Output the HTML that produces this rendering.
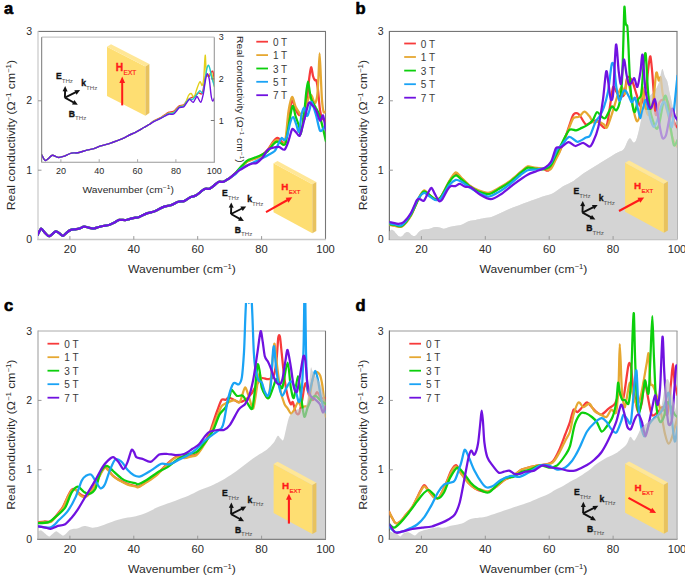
<!DOCTYPE html>
<html><head><meta charset="utf-8"><style>
html,body{margin:0;padding:0;background:#fff;width:685px;height:576px;overflow:hidden}
svg{display:block}
</style></head><body>
<svg width="685" height="576" viewBox="0 0 685 576" font-family='"Liberation Sans", sans-serif'>
<rect width="685" height="576" fill="#fff"/>
<defs>
<clipPath id="clipa"><rect x="38.0" y="3.4" width="287.6" height="236.2"/></clipPath>
<clipPath id="clipga"><rect x="38.0" y="31.4" width="287.6" height="208.2"/></clipPath>
<clipPath id="clipb"><rect x="389.4" y="3.4" width="287.6" height="236.2"/></clipPath>
<clipPath id="clipgb"><rect x="389.4" y="31.4" width="287.6" height="208.2"/></clipPath>
<clipPath id="clipc"><rect x="38.0" y="303.0" width="287.6" height="236.2"/></clipPath>
<clipPath id="clipgc"><rect x="38.0" y="331.0" width="287.6" height="208.2"/></clipPath>
<clipPath id="clipd"><rect x="389.4" y="303.0" width="287.6" height="236.2"/></clipPath>
<clipPath id="clipgd"><rect x="389.4" y="331.0" width="287.6" height="208.2"/></clipPath>
</defs>
<line x1="38.0" y1="31.4" x2="326.0" y2="31.4" stroke="#666" stroke-width="1"/>
<line x1="325.5" y1="31.4" x2="325.5" y2="239.6" stroke="#777" stroke-width="1.1"/>
<line x1="37.2" y1="239.6" x2="326.0" y2="239.6" stroke="#c8c8c8" stroke-width="1.5"/>
<line x1="38.0" y1="30.9" x2="38.0" y2="239.6" stroke="#c8c8c8" stroke-width="1.2"/>
<g clip-path="url(#clipa)">
<path d="M37.5,235.2 C38.0,234.3 40.1,229.0 41.1,228.6 C42.1,228.2 43.6,231.5 44.8,232.6 C46.0,233.7 47.9,236.4 49.4,236.2 C50.9,236.0 54.3,231.8 55.7,231.4 C57.1,231.0 58.4,232.7 59.4,233.3 C60.4,233.9 62.0,235.9 63.0,235.8 C64.0,235.7 65.7,233.4 66.7,232.6 C67.7,231.8 69.1,230.6 70.3,230.1 C71.5,229.6 74.2,229.5 75.4,229.3 C76.6,229.1 77.9,229.0 79.1,228.6 C80.3,228.2 82.9,226.8 84.2,226.7 C85.5,226.6 87.3,227.3 88.6,227.6 C89.9,227.9 92.3,228.6 93.7,228.5 C95.1,228.4 97.5,227.3 98.8,227.0 C100.1,226.7 101.8,226.3 103.2,226.0 C104.6,225.7 107.6,225.4 109.0,225.0 C110.4,224.6 112.0,223.8 113.4,223.1 C114.8,222.4 117.6,220.3 119.2,219.9 C120.8,219.5 123.7,220.2 125.1,220.1 C126.5,220.0 128.0,219.4 129.4,219.1 C130.8,218.8 134.0,218.0 135.3,217.7 C136.6,217.4 137.1,217.8 138.8,217.2 C140.5,216.6 145.3,213.9 147.5,213.1 C149.7,212.3 152.5,212.2 154.8,211.3 C157.1,210.4 161.3,207.8 163.6,206.9 C165.9,206.0 168.9,205.9 170.9,205.2 C172.9,204.5 176.4,202.4 178.2,201.8 C180.0,201.2 182.4,201.7 184.0,201.1 C185.6,200.5 188.3,198.2 189.9,197.4 C191.5,196.6 193.7,196.7 195.7,195.5 C197.7,194.3 202.6,190.1 204.5,189.1 C206.4,188.1 208.2,189.3 209.6,188.7 C211.0,188.1 213.4,186.0 214.7,185.0 C216.0,184.0 217.8,182.2 219.0,181.8 C220.2,181.4 222.2,182.2 223.4,181.8 C224.6,181.4 226.9,179.8 227.8,179.2 C228.7,178.6 229.0,178.5 230.0,177.8 C231.0,177.1 233.6,175.3 235.0,174.0 C236.4,172.7 238.3,170.2 240.0,168.5 C241.7,166.8 245.0,162.9 246.9,161.5 C248.8,160.1 252.0,159.6 253.9,158.8 C255.8,158.0 258.9,157.1 260.8,155.8 C262.7,154.5 266.1,151.7 267.8,149.7 C269.6,147.7 271.9,143.1 273.3,141.4 C274.7,139.7 276.4,138.0 277.5,137.9 C278.6,137.8 280.1,139.9 281.0,140.7 C281.9,141.5 283.0,144.2 283.8,143.5 C284.6,142.8 285.8,139.4 286.5,135.8 C287.2,132.2 287.8,122.8 288.6,117.8 C289.4,112.8 291.1,101.6 292.1,100.4 C293.1,99.2 294.6,107.4 295.6,109.4 C296.6,111.4 298.3,114.3 299.0,115.0 C299.7,115.7 299.7,113.9 300.5,114.5 C301.3,115.1 303.5,121.2 304.4,119.2 C305.3,117.2 306.4,105.5 307.0,100.0 C307.6,94.5 308.4,84.6 309.0,80.0 C309.6,75.4 310.5,67.9 311.1,67.3 C311.7,66.7 312.5,74.2 313.0,76.0 C313.5,77.8 314.3,79.5 314.8,80.1 C315.3,80.7 316.0,79.2 316.4,80.6 C316.8,82.0 317.5,85.9 318.0,90.0 C318.5,94.1 319.4,106.1 320.0,110.0 C320.6,113.9 321.2,116.4 322.0,118.0 C322.8,119.6 325.3,120.8 325.8,121.3" fill="none" stroke="#f73b3b" stroke-width="2.25" stroke-linejoin="round" stroke-linecap="round" />
<path d="M37.5,235.2 C38.0,234.3 40.1,229.0 41.1,228.6 C42.1,228.2 43.6,231.5 44.8,232.6 C46.0,233.7 47.9,236.4 49.4,236.2 C50.9,236.0 54.3,231.8 55.7,231.4 C57.1,231.0 58.4,232.7 59.4,233.3 C60.4,233.9 62.0,235.9 63.0,235.8 C64.0,235.7 65.7,233.4 66.7,232.6 C67.7,231.8 69.1,230.6 70.3,230.1 C71.5,229.6 74.2,229.5 75.4,229.3 C76.6,229.1 77.9,229.0 79.1,228.6 C80.3,228.2 82.9,226.8 84.2,226.7 C85.5,226.6 87.3,227.3 88.6,227.6 C89.9,227.9 92.3,228.6 93.7,228.5 C95.1,228.4 97.5,227.3 98.8,227.0 C100.1,226.7 101.8,226.3 103.2,226.0 C104.6,225.7 107.6,225.4 109.0,225.0 C110.4,224.6 112.0,223.8 113.4,223.1 C114.8,222.4 117.6,220.3 119.2,219.9 C120.8,219.5 123.7,220.2 125.1,220.1 C126.5,220.0 128.0,219.4 129.4,219.1 C130.8,218.8 134.0,218.0 135.3,217.7 C136.6,217.4 137.1,217.8 138.8,217.2 C140.5,216.6 145.3,213.9 147.5,213.1 C149.7,212.3 152.5,212.2 154.8,211.3 C157.1,210.4 161.3,207.8 163.6,206.9 C165.9,206.0 168.9,205.9 170.9,205.2 C172.9,204.5 176.4,202.4 178.2,201.8 C180.0,201.2 182.4,201.7 184.0,201.1 C185.6,200.5 188.3,198.2 189.9,197.4 C191.5,196.6 193.7,196.7 195.7,195.5 C197.7,194.3 202.6,190.1 204.5,189.1 C206.4,188.1 208.2,189.3 209.6,188.7 C211.0,188.1 213.4,186.0 214.7,185.0 C216.0,184.0 217.8,182.2 219.0,181.8 C220.2,181.4 222.2,182.2 223.4,181.8 C224.6,181.4 226.9,179.8 227.8,179.2 C228.7,178.6 229.0,178.5 230.0,177.8 C231.0,177.1 233.6,175.3 235.0,174.0 C236.4,172.7 238.3,170.2 240.0,168.5 C241.7,166.8 245.0,163.1 246.9,161.8 C248.8,160.5 252.0,160.0 253.9,159.2 C255.8,158.4 258.9,157.5 260.8,156.3 C262.7,155.1 266.1,152.4 267.8,150.5 C269.6,148.6 271.9,144.0 273.3,142.5 C274.7,141.0 276.3,139.9 277.5,140.0 C278.7,140.1 280.8,142.9 281.7,143.5 C282.6,144.1 283.2,144.9 283.8,144.0 C284.4,143.1 285.1,141.8 285.8,137.2 C286.5,132.6 287.7,116.4 288.6,110.8 C289.5,105.2 291.1,97.6 292.1,97.0 C293.1,96.4 294.6,104.6 295.6,106.7 C296.6,108.8 298.1,110.8 299.0,112.2 C299.9,113.6 301.2,116.9 302.0,117.0 C302.8,117.1 304.2,115.4 305.0,113.0 C305.8,110.6 307.2,102.5 308.0,100.0 C308.8,97.5 309.9,95.4 310.5,95.0 C311.1,94.6 311.6,95.6 312.2,96.8 C312.8,98.0 314.1,103.6 314.8,103.5 C315.5,103.4 316.7,99.8 317.2,96.0 C317.7,92.2 318.2,82.0 318.5,76.0 C318.8,70.0 319.3,53.3 319.6,53.3 C319.9,53.3 320.5,69.5 320.8,76.0 C321.1,82.5 321.6,95.0 322.0,100.0 C322.4,105.0 323.1,110.3 323.6,111.9 C324.1,113.5 325.5,111.5 325.8,111.4" fill="none" stroke="#e6a832" stroke-width="2.25" stroke-linejoin="round" stroke-linecap="round" />
<path d="M37.5,235.2 C38.0,234.3 40.1,229.0 41.1,228.6 C42.1,228.2 43.6,231.5 44.8,232.6 C46.0,233.7 47.9,236.4 49.4,236.2 C50.9,236.0 54.3,231.8 55.7,231.4 C57.1,231.0 58.4,232.7 59.4,233.3 C60.4,233.9 62.0,235.9 63.0,235.8 C64.0,235.7 65.7,233.4 66.7,232.6 C67.7,231.8 69.1,230.6 70.3,230.1 C71.5,229.6 74.2,229.5 75.4,229.3 C76.6,229.1 77.9,229.0 79.1,228.6 C80.3,228.2 82.9,226.8 84.2,226.7 C85.5,226.6 87.3,227.3 88.6,227.6 C89.9,227.9 92.3,228.6 93.7,228.5 C95.1,228.4 97.5,227.3 98.8,227.0 C100.1,226.7 101.8,226.3 103.2,226.0 C104.6,225.7 107.6,225.4 109.0,225.0 C110.4,224.6 112.0,223.8 113.4,223.1 C114.8,222.4 117.6,220.3 119.2,219.9 C120.8,219.5 123.7,220.2 125.1,220.1 C126.5,220.0 128.0,219.4 129.4,219.1 C130.8,218.8 134.0,218.0 135.3,217.7 C136.6,217.4 137.1,217.8 138.8,217.2 C140.5,216.6 145.3,213.9 147.5,213.1 C149.7,212.3 152.5,212.2 154.8,211.3 C157.1,210.4 161.3,207.8 163.6,206.9 C165.9,206.0 168.9,205.9 170.9,205.2 C172.9,204.5 176.4,202.4 178.2,201.8 C180.0,201.2 182.4,201.7 184.0,201.1 C185.6,200.5 188.3,198.2 189.9,197.4 C191.5,196.6 193.7,196.7 195.7,195.5 C197.7,194.3 202.6,190.1 204.5,189.1 C206.4,188.1 208.2,189.3 209.6,188.7 C211.0,188.1 213.4,186.0 214.7,185.0 C216.0,184.0 217.8,182.2 219.0,181.8 C220.2,181.4 222.2,182.2 223.4,181.8 C224.6,181.4 226.9,179.8 227.8,179.2 C228.7,178.6 229.0,178.6 230.0,177.8 C231.0,177.0 233.6,174.9 235.0,173.5 C236.4,172.1 238.3,169.6 240.0,167.8 C241.7,166.0 245.0,162.2 246.9,160.8 C248.8,159.4 252.0,158.8 253.9,158.0 C255.8,157.2 258.9,156.3 260.8,155.3 C262.7,154.3 266.1,152.7 267.8,151.1 C269.6,149.5 272.0,145.5 273.3,144.2 C274.6,142.9 275.8,141.9 276.8,141.7 C277.8,141.5 279.3,142.4 280.3,142.8 C281.3,143.2 283.0,144.9 283.8,144.9 C284.6,144.9 285.1,145.4 285.8,142.8 C286.5,140.2 287.7,131.3 288.6,126.1 C289.5,120.9 291.5,107.4 292.5,106.0 C293.5,104.6 294.7,113.6 295.6,116.4 C296.5,119.2 298.3,123.7 299.0,126.1 C299.7,128.5 300.0,135.4 300.7,133.8 C301.4,132.2 303.2,120.9 304.0,115.0 C304.8,109.1 305.7,96.7 306.3,92.0 C306.9,87.3 307.5,81.5 308.0,81.5 C308.5,81.5 309.3,89.4 309.8,92.0 C310.3,94.6 310.7,97.8 311.5,100.0 C312.3,102.2 314.8,105.7 315.8,107.7 C316.9,109.7 318.1,111.7 319.0,114.0 C319.9,116.3 321.0,120.6 322.0,124.4 C323.0,128.2 325.3,138.7 325.8,141.0" fill="none" stroke="#0ccf0c" stroke-width="2.25" stroke-linejoin="round" stroke-linecap="round" />
<path d="M37.5,235.2 C38.0,234.3 40.1,229.0 41.1,228.6 C42.1,228.2 43.6,231.5 44.8,232.6 C46.0,233.7 47.9,236.4 49.4,236.2 C50.9,236.0 54.3,231.8 55.7,231.4 C57.1,231.0 58.4,232.7 59.4,233.3 C60.4,233.9 62.0,235.9 63.0,235.8 C64.0,235.7 65.7,233.4 66.7,232.6 C67.7,231.8 69.1,230.6 70.3,230.1 C71.5,229.6 74.2,229.5 75.4,229.3 C76.6,229.1 77.9,229.0 79.1,228.6 C80.3,228.2 82.9,226.8 84.2,226.7 C85.5,226.6 87.3,227.3 88.6,227.6 C89.9,227.9 92.3,228.6 93.7,228.5 C95.1,228.4 97.5,227.3 98.8,227.0 C100.1,226.7 101.8,226.3 103.2,226.0 C104.6,225.7 107.6,225.4 109.0,225.0 C110.4,224.6 112.0,223.8 113.4,223.1 C114.8,222.4 117.6,220.3 119.2,219.9 C120.8,219.5 123.7,220.2 125.1,220.1 C126.5,220.0 128.0,219.4 129.4,219.1 C130.8,218.8 134.0,218.0 135.3,217.7 C136.6,217.4 137.1,217.8 138.8,217.2 C140.5,216.6 145.3,213.9 147.5,213.1 C149.7,212.3 152.5,212.2 154.8,211.3 C157.1,210.4 161.3,207.8 163.6,206.9 C165.9,206.0 168.9,205.9 170.9,205.2 C172.9,204.5 176.4,202.4 178.2,201.8 C180.0,201.2 182.4,201.7 184.0,201.1 C185.6,200.5 188.3,198.2 189.9,197.4 C191.5,196.6 193.7,196.7 195.7,195.5 C197.7,194.3 202.6,190.1 204.5,189.1 C206.4,188.1 208.2,189.3 209.6,188.7 C211.0,188.1 213.4,186.0 214.7,185.0 C216.0,184.0 217.8,182.2 219.0,181.8 C220.2,181.4 222.2,182.2 223.4,181.8 C224.6,181.4 226.9,179.8 227.8,179.2 C228.7,178.6 229.0,178.5 230.0,177.8 C231.0,177.1 233.6,175.7 235.0,174.5 C236.4,173.3 238.3,170.5 240.0,169.2 C241.7,167.9 245.0,166.5 246.9,165.5 C248.8,164.5 252.0,163.1 253.9,162.2 C255.8,161.3 258.9,159.8 260.8,158.8 C262.7,157.8 265.9,156.4 267.8,155.3 C269.7,154.2 273.1,152.8 274.7,151.1 C276.3,149.3 277.9,144.6 278.9,142.8 C279.9,141.0 280.9,138.3 281.7,137.9 C282.5,137.5 283.6,140.3 284.4,140.0 C285.2,139.7 286.4,138.1 287.2,135.8 C288.0,133.5 289.2,125.9 290.0,123.3 C290.8,120.7 292.3,116.9 293.2,117.1 C294.1,117.3 295.5,122.7 296.3,124.7 C297.1,126.7 298.3,133.1 299.0,131.7 C299.7,130.3 300.8,118.4 301.5,115.0 C302.2,111.6 303.4,107.6 304.2,107.7 C305.0,107.8 306.3,115.7 307.0,116.0 C307.7,116.3 308.8,112.0 309.5,110.0 C310.2,108.0 310.8,101.3 311.7,102.0 C312.6,102.7 314.8,111.0 316.0,115.0 C317.2,119.0 318.9,128.8 320.0,130.6 C321.1,132.3 323.4,128.1 324.2,127.5 C325.0,126.9 325.6,126.2 325.8,126.0" fill="none" stroke="#1aa3f5" stroke-width="2.25" stroke-linejoin="round" stroke-linecap="round" />
<path d="M37.5,235.2 C38.0,234.3 40.1,229.0 41.1,228.6 C42.1,228.2 43.6,231.5 44.8,232.6 C46.0,233.7 47.9,236.4 49.4,236.2 C50.9,236.0 54.3,231.8 55.7,231.4 C57.1,231.0 58.4,232.7 59.4,233.3 C60.4,233.9 62.0,235.9 63.0,235.8 C64.0,235.7 65.7,233.4 66.7,232.6 C67.7,231.8 69.1,230.6 70.3,230.1 C71.5,229.6 74.2,229.5 75.4,229.3 C76.6,229.1 77.9,229.0 79.1,228.6 C80.3,228.2 82.9,226.8 84.2,226.7 C85.5,226.6 87.3,227.3 88.6,227.6 C89.9,227.9 92.3,228.6 93.7,228.5 C95.1,228.4 97.5,227.3 98.8,227.0 C100.1,226.7 101.8,226.3 103.2,226.0 C104.6,225.7 107.6,225.4 109.0,225.0 C110.4,224.6 112.0,223.8 113.4,223.1 C114.8,222.4 117.6,220.3 119.2,219.9 C120.8,219.5 123.7,220.2 125.1,220.1 C126.5,220.0 128.0,219.4 129.4,219.1 C130.8,218.8 134.0,218.0 135.3,217.7 C136.6,217.4 137.1,217.8 138.8,217.2 C140.5,216.6 145.3,213.9 147.5,213.1 C149.7,212.3 152.5,212.2 154.8,211.3 C157.1,210.4 161.3,207.8 163.6,206.9 C165.9,206.0 168.9,205.9 170.9,205.2 C172.9,204.5 176.4,202.4 178.2,201.8 C180.0,201.2 182.4,201.7 184.0,201.1 C185.6,200.5 188.3,198.2 189.9,197.4 C191.5,196.6 193.7,196.7 195.7,195.5 C197.7,194.3 202.6,190.1 204.5,189.1 C206.4,188.1 208.2,189.3 209.6,188.7 C211.0,188.1 213.4,186.0 214.7,185.0 C216.0,184.0 217.8,182.2 219.0,181.8 C220.2,181.4 222.2,182.2 223.4,181.8 C224.6,181.4 226.9,179.8 227.8,179.2 C228.7,178.6 229.0,178.6 230.0,177.8 C231.0,177.0 233.8,174.5 235.2,173.4 C236.6,172.3 238.8,170.7 240.0,169.9 C241.2,169.1 242.8,168.2 244.0,167.5 C245.2,166.8 247.1,165.6 248.3,165.0 C249.5,164.4 251.3,163.8 252.5,163.5 C253.7,163.2 255.3,163.7 256.7,162.9 C258.1,162.1 260.6,159.8 262.2,158.0 C263.8,156.2 266.2,151.2 267.8,149.7 C269.4,148.2 271.7,148.0 273.3,147.6 C274.9,147.2 277.3,146.6 278.9,146.9 C280.5,147.2 283.1,150.3 284.4,149.7 C285.7,149.1 287.0,145.0 287.9,142.8 C288.8,140.6 289.9,135.9 290.5,134.0 C291.1,132.1 291.8,129.2 292.5,128.9 C293.2,128.6 294.6,130.7 295.6,131.7 C296.6,132.7 298.7,136.7 299.7,135.8 C300.7,134.9 301.8,129.5 303.0,125.0 C304.2,120.5 307.3,106.4 308.5,103.5 C309.7,100.6 310.6,103.7 311.7,104.6 C312.8,105.5 314.8,107.7 316.0,110.0 C317.2,112.3 319.0,119.9 320.0,120.7 C321.0,121.5 322.3,114.2 323.1,115.5 C323.9,116.8 325.4,128.1 325.8,130.1" fill="none" stroke="#7012e0" stroke-width="2.25" stroke-linejoin="round" stroke-linecap="round" />
</g>
<line x1="69.9" y1="239.6" x2="69.9" y2="236.1" stroke="#999" stroke-width="1"/>
<line x1="133.8" y1="239.6" x2="133.8" y2="236.1" stroke="#999" stroke-width="1"/>
<line x1="197.7" y1="239.6" x2="197.7" y2="236.1" stroke="#999" stroke-width="1"/>
<line x1="261.6" y1="239.6" x2="261.6" y2="236.1" stroke="#999" stroke-width="1"/>
<line x1="38.0" y1="170.2" x2="41.5" y2="170.2" stroke="#999" stroke-width="1"/>
<line x1="38.0" y1="100.8" x2="41.5" y2="100.8" stroke="#999" stroke-width="1"/>
<text transform="translate(69.9,253.2) scale(1.12,1)" font-size="10" text-anchor="middle" fill="#2a2a2a">20</text>
<text transform="translate(133.8,253.2) scale(1.12,1)" font-size="10" text-anchor="middle" fill="#2a2a2a">40</text>
<text transform="translate(197.7,253.2) scale(1.12,1)" font-size="10" text-anchor="middle" fill="#2a2a2a">60</text>
<text transform="translate(261.6,253.2) scale(1.12,1)" font-size="10" text-anchor="middle" fill="#2a2a2a">80</text>
<text transform="translate(325.5,253.2) scale(1.12,1)" font-size="10" text-anchor="middle" fill="#2a2a2a">100</text>
<text transform="translate(32.2,243.2) scale(1.06,1)" font-size="10" text-anchor="end" fill="#2a2a2a">0</text>
<text transform="translate(32.2,173.8) scale(1.06,1)" font-size="10" text-anchor="end" fill="#2a2a2a">1</text>
<text transform="translate(32.2,104.4) scale(1.06,1)" font-size="10" text-anchor="end" fill="#2a2a2a">2</text>
<text transform="translate(32.2,35.0) scale(1.06,1)" font-size="10" text-anchor="end" fill="#2a2a2a">3</text>
<text transform="translate(181.9,273.0) scale(1.1,1)" font-size="11" text-anchor="middle" fill="#2a2a2a">Wavenumber (cm<tspan font-size="7" dy="-4">−1</tspan><tspan dy="4">)</tspan></text>
<text transform="translate(15.4,135.1) rotate(-90) scale(1.11,1)" font-size="11" text-anchor="middle" fill="#2a2a2a">Real conductivity (Ω<tspan font-size="7" dy="-4">−1</tspan><tspan dy="4"> cm</tspan><tspan font-size="7" dy="-4">−1</tspan><tspan dy="4">)</tspan></text>
<line x1="256.3" y1="41.7" x2="268.0" y2="41.7" stroke="#f73b3b" stroke-width="1.8"/>
<text x="272.9" y="45.8" font-size="10.00" text-anchor="start" font-weight="normal" fill="#3a3a3a" >0 T</text>
<line x1="256.3" y1="55.1" x2="268.0" y2="55.1" stroke="#e6a832" stroke-width="1.8"/>
<text x="272.9" y="59.2" font-size="10.00" text-anchor="start" font-weight="normal" fill="#3a3a3a" >1 T</text>
<line x1="256.3" y1="68.5" x2="268.0" y2="68.5" stroke="#0ccf0c" stroke-width="1.8"/>
<text x="272.9" y="72.6" font-size="10.00" text-anchor="start" font-weight="normal" fill="#3a3a3a" >3 T</text>
<line x1="256.3" y1="81.8" x2="268.0" y2="81.8" stroke="#1aa3f5" stroke-width="1.8"/>
<text x="272.9" y="85.9" font-size="10.00" text-anchor="start" font-weight="normal" fill="#3a3a3a" >5 T</text>
<line x1="256.3" y1="95.2" x2="268.0" y2="95.2" stroke="#7012e0" stroke-width="1.8"/>
<text x="272.9" y="99.3" font-size="10.00" text-anchor="start" font-weight="normal" fill="#3a3a3a" >7 T</text>
<text x="4.0" y="14.1" font-size="16.50" text-anchor="start" font-weight="bold" fill="#000" stroke="#000" stroke-width="0.6">a</text>
<path d="M273.5,163.2 L312.3,184.2 L312.3,233.2 L273.5,212.2 Z" fill="#fede72"/><path d="M273.5,163.2 L277.5,160.9 L316.3,181.9 L312.3,184.2 Z" fill="#ffe797"/><path d="M312.3,184.2 L316.3,181.9 L316.3,230.9 L312.3,233.2 Z" fill="#e8c25e"/>
<line x1="231.0" y1="214.0" x2="231.2" y2="207.1" stroke="#111" stroke-width="1.90"/><path d="M231.3,202.4 L233.7,207.7 L228.7,207.5 Z" fill="#111"/><line x1="231.0" y1="214.0" x2="242.0" y2="208.5" stroke="#111" stroke-width="1.90"/><path d="M246.2,206.4 L242.7,211.0 L240.4,206.5 Z" fill="#111"/><line x1="231.0" y1="214.0" x2="239.8" y2="218.8" stroke="#111" stroke-width="1.90"/><path d="M243.9,221.0 L238.1,220.7 L240.5,216.3 Z" fill="#111"/><text x="222.0" y="195.6" font-size="8.6" font-weight="bold" fill="#111" stroke="#111" stroke-width="0.35">E<tspan stroke="none" font-size="6.2" font-weight="normal" fill="#555" dy="4.1">THz</tspan></text><text x="247.3" y="202.4" font-size="8.6" font-weight="bold" fill="#111" stroke="#111" stroke-width="0.35">k<tspan stroke="none" font-size="6.2" font-weight="normal" fill="#555" dy="3.5">THz</tspan></text><text x="234.8" y="232.8" font-size="8.6" font-weight="bold" fill="#111" stroke="#111" stroke-width="0.35">B<tspan stroke="none" font-size="6.2" font-weight="normal" fill="#555" dy="3.2">THz</tspan></text>
<text x="281.2" y="189.8" font-size="9.8" font-weight="bold" fill="#ff1a1a" stroke="#ff1a1a" stroke-width="0.35">H<tspan font-size="6.0" font-weight="normal" dy="4.1" dx="0.4" stroke-width="0.18">EXT</tspan></text>
<line x1="266.0" y1="212.2" x2="287.5" y2="200.0" stroke="#ff1a1a" stroke-width="2.10"/><path d="M292.3,197.3 L288.5,202.8 L285.7,197.7 Z" fill="#ff1a1a"/>
<line x1="389.4" y1="31.4" x2="677.5" y2="31.4" stroke="#666" stroke-width="1"/>
<line x1="677.0" y1="31.4" x2="677.0" y2="239.6" stroke="#777" stroke-width="1.1"/>
<line x1="388.7" y1="239.6" x2="677.5" y2="239.6" stroke="#bbb" stroke-width="1.5"/>
<line x1="389.4" y1="30.9" x2="389.4" y2="239.6" stroke="#707070" stroke-width="1.2"/>
<path d="M389.4,231.5 C389.6,231.3 390.4,230.4 390.8,230.2 C391.2,230.0 392.0,229.8 392.4,229.9 C392.8,230.0 393.5,230.5 394.0,231.0 C394.5,231.5 395.4,232.8 396.0,233.5 C396.6,234.2 397.7,235.5 398.3,235.9 C398.9,236.3 400.0,236.7 400.6,236.7 C401.2,236.7 402.0,236.3 402.6,235.8 C403.2,235.3 404.3,233.5 405.0,233.0 C405.7,232.5 406.7,231.9 407.3,231.9 C407.9,231.9 408.7,232.3 409.3,232.8 C409.9,233.3 411.1,234.7 411.8,235.2 C412.5,235.7 413.7,236.1 414.3,236.1 C414.9,236.1 415.7,235.5 416.3,235.0 C416.9,234.5 417.8,233.0 418.5,232.3 C419.2,231.6 420.2,230.7 421.0,230.3 C421.8,229.9 423.0,229.8 424.0,229.6 C425.0,229.4 426.7,229.5 428.3,229.1 C429.9,228.7 433.6,227.2 435.3,227.0 C437.0,226.8 439.4,227.5 440.6,227.7 C441.8,227.9 442.8,228.8 444.0,228.7 C445.2,228.6 447.8,227.4 449.3,227.0 C450.8,226.6 452.9,226.2 454.6,225.9 C456.3,225.6 459.6,225.4 461.6,224.7 C463.6,224.0 466.6,221.9 468.6,221.2 C470.6,220.5 473.6,220.3 475.6,219.9 C477.6,219.5 480.4,218.9 482.6,218.5 C484.8,218.1 488.9,217.8 491.4,217.1 C493.8,216.4 497.4,214.5 500.1,213.3 C502.8,212.1 507.6,209.7 510.5,208.5 C513.4,207.3 518.1,205.7 521.0,204.6 C523.9,203.5 528.6,201.7 531.5,200.6 C534.4,199.5 539.1,197.7 542.0,196.7 C544.9,195.7 549.5,195.1 552.5,193.6 C555.5,192.1 560.1,188.0 563.1,186.2 C566.1,184.4 570.7,182.7 573.6,180.9 C576.5,179.1 581.2,175.1 584.1,173.1 C587.0,171.1 591.7,168.3 594.6,166.5 C597.5,164.7 602.2,161.7 605.1,159.9 C608.0,158.1 613.0,154.9 615.6,153.4 C618.2,151.9 621.8,151.1 623.5,149.4 C625.2,147.7 626.5,143.1 627.4,141.5 C628.3,139.9 629.3,138.2 630.1,138.3 C630.9,138.4 632.6,142.2 633.4,142.5 C634.2,142.8 635.2,142.2 635.9,140.8 C636.6,139.4 637.7,135.4 638.4,132.6 C639.1,129.8 640.2,124.5 640.9,121.0 C641.6,117.5 642.6,111.0 643.3,107.8 C644.0,104.6 645.0,99.5 645.8,97.9 C646.6,96.3 648.2,97.0 649.1,96.3 C650.0,95.6 651.4,94.2 652.4,93.0 C653.4,91.8 655.5,89.8 656.5,88.0 C657.5,86.2 659.0,82.5 659.8,79.8 C660.6,77.1 661.6,69.5 662.3,69.0 C663.0,68.5 664.1,74.8 664.8,76.5 C665.5,78.2 666.6,79.1 667.3,81.4 C668.0,83.7 669.0,89.8 669.7,93.0 C670.4,96.2 671.5,100.8 672.2,104.5 C672.9,108.2 674.0,115.3 674.7,119.4 C675.4,123.5 677.1,132.0 677.5,134.0 L677.5,239.6 L389.4,239.6 Z" fill="#d4d4d4" clip-path="url(#clipgb)"/>
<g clip-path="url(#clipb)">
<path d="M388.0,224.0 C389.0,224.2 393.0,225.2 395.0,225.5 C397.0,225.8 399.8,227.4 402.0,226.0 C404.2,224.6 408.5,219.3 410.8,215.5 C413.1,211.7 416.9,201.9 418.7,198.5 C420.5,195.1 422.6,191.6 423.9,191.0 C425.2,190.4 426.7,192.8 428.3,194.0 C429.9,195.2 433.6,198.8 435.3,199.3 C437.0,199.8 438.6,200.0 440.6,197.5 C442.6,195.0 447.2,184.8 449.3,181.5 C451.4,178.2 454.2,174.5 455.8,174.0 C457.4,173.5 459.0,176.3 461.0,178.0 C463.0,179.7 467.4,184.2 469.8,186.0 C472.2,187.8 475.8,189.9 478.5,191.0 C481.2,192.1 486.0,193.9 489.0,193.5 C492.0,193.1 496.6,189.7 499.6,188.0 C502.6,186.3 507.2,183.7 510.1,181.5 C513.0,179.3 518.1,174.5 520.6,172.5 C523.1,170.5 525.6,167.6 527.6,167.0 C529.6,166.4 532.4,167.7 534.6,168.0 C536.8,168.3 541.4,168.7 543.4,169.0 C545.4,169.3 546.9,171.7 548.6,170.3 C550.3,168.9 553.2,163.1 555.3,159.2 C557.4,155.3 561.2,148.5 563.6,142.5 C566.0,136.5 570.8,120.2 572.6,116.1 C574.4,112.0 575.7,113.1 576.8,113.1 C577.9,113.1 579.0,114.5 580.3,116.1 C581.6,117.7 584.2,123.5 585.8,124.4 C587.4,125.3 589.8,123.0 591.4,122.4 C593.0,121.8 595.4,119.8 596.9,120.3 C598.4,120.8 600.7,124.7 601.8,125.8 C602.9,126.9 603.8,128.3 604.6,127.9 C605.4,127.5 606.5,126.8 607.4,123.0 C608.3,119.2 610.0,105.9 610.8,100.8 C611.6,95.7 612.4,88.2 613.2,86.9 C614.0,85.6 615.4,90.3 616.3,91.6 C617.2,92.9 618.3,95.9 619.4,96.3 C620.5,96.7 623.0,97.3 624.1,94.7 C625.2,92.1 626.2,79.5 627.3,77.5 C628.4,75.5 630.7,78.2 632.0,80.6 C633.3,83.0 635.5,91.2 636.6,94.7 C637.7,98.2 638.9,104.9 639.8,105.6 C640.7,106.3 642.0,102.0 642.9,99.4 C643.8,96.8 645.4,91.5 646.2,86.9 C647.0,82.3 647.9,70.9 648.5,66.6 C649.1,62.3 649.9,55.3 650.4,56.4 C650.9,57.5 651.8,67.3 652.4,74.4 C653.0,81.5 654.3,101.5 654.8,107.2 C655.3,112.9 655.7,115.7 656.3,115.0 C656.9,114.3 658.4,104.7 659.4,102.5 C660.4,100.3 662.2,99.6 663.3,99.4 C664.4,99.2 666.3,99.4 667.3,100.9 C668.3,102.4 669.3,107.0 670.4,110.3 C671.5,113.6 674.0,122.0 675.0,124.4 C676.0,126.8 677.1,127.1 677.5,127.5" fill="none" stroke="#f73b3b" stroke-width="2.25" stroke-linejoin="round" stroke-linecap="round" />
<path d="M388.0,224.5 C389.0,224.7 393.0,225.7 395.0,226.0 C397.0,226.3 399.8,227.9 402.0,226.5 C404.2,225.1 408.5,220.0 410.8,216.0 C413.1,212.0 416.9,201.6 418.7,198.0 C420.5,194.4 422.6,191.1 423.9,190.5 C425.2,189.9 426.7,192.8 428.3,194.0 C429.9,195.2 433.6,198.8 435.3,199.3 C437.0,199.8 438.6,200.1 440.6,197.5 C442.6,194.9 447.2,184.5 449.3,181.0 C451.4,177.5 454.2,172.9 455.8,172.4 C457.4,171.9 459.0,175.4 461.0,177.3 C463.0,179.2 467.4,183.9 469.8,185.7 C472.2,187.5 475.8,189.4 478.5,190.4 C481.2,191.4 486.0,193.1 489.0,192.7 C492.0,192.3 496.6,189.2 499.6,187.5 C502.6,185.8 507.2,183.0 510.1,180.8 C513.0,178.6 518.1,174.0 520.6,172.0 C523.1,170.0 525.6,167.0 527.6,166.4 C529.6,165.8 532.4,167.4 534.6,167.7 C536.8,168.0 541.2,168.3 543.4,168.5 C545.6,168.7 548.7,170.6 550.4,169.4 C552.1,168.2 554.3,162.6 555.6,160.0 C556.9,157.4 559.0,153.5 560.0,151.0 C561.0,148.5 561.9,144.7 563.0,142.0 C564.1,139.3 566.4,134.7 567.8,131.4 C569.2,128.1 571.7,120.2 573.3,118.2 C574.9,116.2 577.3,117.7 578.9,116.8 C580.5,115.9 582.9,111.8 584.4,111.7 C585.9,111.6 588.0,114.6 589.3,116.1 C590.6,117.6 592.2,121.6 593.5,122.4 C594.8,123.2 596.8,121.4 598.3,121.7 C599.8,122.0 602.7,123.6 603.9,124.4 C605.1,125.2 605.8,128.8 606.9,127.5 C608.0,126.2 610.1,119.6 611.6,115.0 C613.1,110.4 616.5,98.6 617.9,94.7 C619.3,90.8 620.8,87.0 621.8,86.9 C622.8,86.8 624.1,95.0 624.9,93.9 C625.7,92.8 626.5,79.3 627.3,79.0 C628.1,78.7 629.4,86.8 630.4,91.6 C631.4,96.4 633.3,109.2 634.3,113.4 C635.3,117.6 636.5,121.7 637.4,121.3 C638.3,120.9 639.8,115.1 640.5,110.3 C641.2,105.5 641.7,87.6 642.3,86.9 C642.9,86.2 644.1,101.1 645.0,105.0 C645.9,108.9 647.4,115.6 648.5,115.0 C649.6,114.4 652.1,106.8 653.2,100.9 C654.3,95.0 655.5,75.6 656.3,72.8 C657.1,70.0 658.1,79.9 658.7,80.6 C659.3,81.3 660.2,75.8 660.7,77.5 C661.2,79.2 661.9,89.2 662.6,93.1 C663.3,97.0 664.8,102.1 665.7,105.6 C666.6,109.1 668.1,114.7 668.8,118.1 C669.5,121.5 669.7,126.3 670.4,129.6 C671.1,132.9 672.9,139.3 673.9,141.7 C674.9,144.1 677.0,146.3 677.5,147.0" fill="none" stroke="#e6a832" stroke-width="2.25" stroke-linejoin="round" stroke-linecap="round" />
<path d="M388.0,223.8 C389.0,224.0 393.0,224.7 395.0,225.0 C397.0,225.3 399.8,227.3 402.0,225.9 C404.2,224.5 408.5,218.8 410.8,215.0 C413.1,211.2 416.9,201.8 418.7,198.5 C420.5,195.2 422.6,192.1 423.9,191.5 C425.2,190.9 426.7,192.9 428.3,194.0 C429.9,195.1 433.6,198.8 435.3,199.3 C437.0,199.8 438.6,199.9 440.6,197.5 C442.6,195.1 447.2,185.1 449.3,182.0 C451.4,178.9 454.2,175.9 455.8,175.5 C457.4,175.1 459.0,177.5 461.0,179.0 C463.0,180.5 467.4,184.8 469.8,186.5 C472.2,188.2 475.8,190.4 478.5,191.5 C481.2,192.6 486.0,194.4 489.0,194.0 C492.0,193.6 496.6,190.2 499.6,188.5 C502.6,186.8 507.2,184.0 510.1,181.8 C513.0,179.6 518.1,175.0 520.6,173.0 C523.1,171.0 525.6,168.3 527.6,167.7 C529.6,167.1 532.4,168.3 534.6,168.5 C536.8,168.7 541.2,169.8 543.4,169.4 C545.6,169.1 548.7,167.9 550.4,166.0 C552.1,164.1 554.1,158.9 555.6,156.0 C557.1,153.1 558.9,148.9 560.8,145.3 C562.7,141.7 567.1,132.1 569.2,130.0 C571.3,127.9 574.4,130.6 576.1,130.3 C577.9,130.0 580.1,128.6 581.7,127.9 C583.3,127.2 585.6,126.2 587.2,125.1 C588.8,124.0 591.4,122.1 592.8,120.3 C594.2,118.5 595.6,112.7 596.9,112.2 C598.2,111.7 600.6,116.0 601.8,116.8 C603.0,117.6 604.3,118.9 605.3,118.2 C606.3,117.5 607.8,113.6 608.8,111.9 C609.8,110.2 611.1,106.6 612.2,106.4 C613.3,106.2 615.3,111.3 616.4,110.3 C617.5,109.3 619.4,104.3 620.2,99.4 C621.0,94.5 621.9,83.3 622.3,75.0 C622.7,66.7 623.1,49.5 623.4,40.0 C623.7,30.5 624.1,9.4 624.4,6.9 C624.7,4.4 625.2,19.5 625.5,22.0 C625.8,24.5 626.0,24.3 626.3,25.0 C626.6,25.7 627.1,24.2 627.4,27.0 C627.7,29.8 628.0,36.6 628.4,45.0 C628.8,53.4 629.6,77.5 630.4,86.9 C631.2,96.3 633.2,110.2 634.3,111.9 C635.4,113.7 637.2,101.9 638.2,99.4 C639.2,96.9 640.5,98.9 641.3,93.9 C642.1,88.9 643.1,69.0 643.7,63.4 C644.3,57.8 645.1,50.7 645.7,54.0 C646.3,57.3 647.1,79.0 647.7,86.9 C648.3,94.8 649.0,104.6 650.1,110.3 C651.2,116.0 654.4,125.8 655.7,127.8 C657.0,129.8 657.9,128.6 659.1,124.3 C660.3,120.0 663.2,100.8 664.3,97.4 C665.4,94.0 666.1,96.0 667.0,100.0 C667.9,104.0 669.4,119.8 670.4,126.1 C671.4,132.4 672.9,143.3 673.9,145.2 C674.9,147.1 677.0,140.7 677.5,140.0" fill="none" stroke="#0ccf0c" stroke-width="2.25" stroke-linejoin="round" stroke-linecap="round" />
<path d="M388.0,223.0 C389.0,223.2 393.0,224.2 395.0,224.5 C397.0,224.8 399.8,226.5 402.0,225.0 C404.2,223.5 408.6,217.6 410.8,214.0 C413.0,210.4 416.2,201.9 418.0,199.0 C419.8,196.1 422.5,193.5 423.9,193.0 C425.3,192.5 426.7,194.5 428.3,195.5 C429.9,196.5 433.6,199.6 435.3,200.0 C437.0,200.4 438.6,200.6 440.6,198.5 C442.6,196.4 447.2,187.6 449.3,185.0 C451.4,182.4 454.2,180.4 455.8,179.9 C457.4,179.4 459.0,180.4 461.0,181.5 C463.0,182.6 467.4,185.9 469.8,187.5 C472.2,189.1 475.8,191.5 478.5,192.8 C481.2,194.1 486.0,196.7 489.0,196.5 C492.0,196.3 496.6,193.2 499.6,191.5 C502.6,189.8 507.2,186.3 510.1,184.0 C513.0,181.7 518.1,176.9 520.6,175.0 C523.1,173.1 525.4,171.1 527.6,170.3 C529.8,169.5 533.5,169.9 536.0,169.5 C538.5,169.1 543.0,168.6 545.1,167.7 C547.2,166.8 549.3,165.6 551.0,163.0 C552.7,160.4 556.0,151.7 557.4,149.3 C558.8,146.9 559.3,147.7 561.0,146.0 C562.7,144.3 566.9,137.5 569.2,136.9 C571.5,136.3 575.2,141.7 577.5,141.8 C579.8,141.9 584.0,138.5 585.8,137.6 C587.5,136.7 588.6,137.8 590.0,135.6 C591.4,133.4 594.2,124.4 595.6,121.7 C597.0,119.0 598.5,118.1 599.7,116.1 C600.9,114.1 602.7,110.7 603.9,107.2 C605.1,103.7 607.0,97.0 608.1,91.1 C609.2,85.2 610.8,68.5 611.6,65.0 C612.4,61.5 613.3,62.7 614.0,65.8 C614.7,68.9 615.5,82.0 616.3,86.9 C617.1,91.8 618.4,100.2 619.4,100.9 C620.4,101.6 622.4,93.0 623.3,91.6 C624.2,90.2 624.9,90.1 625.7,90.8 C626.5,91.5 627.9,94.7 628.8,96.3 C629.7,97.9 631.0,102.3 631.9,102.5 C632.8,102.7 634.1,96.7 635.0,97.8 C635.9,98.9 637.4,107.5 638.2,110.3 C639.0,113.1 639.8,118.3 640.5,118.1 C641.2,117.9 642.1,111.3 642.9,108.8 C643.7,106.3 645.0,98.6 646.0,100.0 C647.0,101.4 649.3,115.3 650.4,119.1 C651.5,122.9 652.9,126.9 653.9,127.0 C654.9,127.1 656.4,122.8 657.4,120.0 C658.4,117.2 659.9,109.6 660.9,107.0 C661.9,104.4 663.3,101.0 664.3,101.7 C665.3,102.4 666.9,109.3 667.8,112.2 C668.7,115.1 669.8,120.7 670.4,122.6 C671.0,124.5 671.6,129.3 672.2,126.1 C672.8,122.9 674.3,107.1 675.0,100.0 C675.7,92.9 677.1,79.1 677.5,75.7" fill="none" stroke="#1aa3f5" stroke-width="2.25" stroke-linejoin="round" stroke-linecap="round" />
<path d="M388.0,222.0 C388.7,222.1 391.8,222.6 393.3,222.9 C394.8,223.2 397.0,223.9 398.5,223.8 C400.0,223.7 402.1,223.5 403.8,222.0 C405.5,220.5 409.0,216.4 410.8,213.3 C412.6,210.2 415.6,202.1 416.9,200.1 C418.2,198.1 419.4,199.2 420.4,199.3 C421.4,199.4 422.8,201.7 423.9,200.7 C425.0,199.7 427.2,194.1 428.3,192.3 C429.4,190.5 430.5,187.8 431.4,187.9 C432.3,188.0 433.4,191.3 434.4,193.1 C435.4,194.9 437.7,200.1 438.8,201.0 C439.9,201.9 441.1,200.9 442.3,199.3 C443.5,197.7 446.4,191.4 447.6,189.6 C448.8,187.8 450.0,186.6 451.1,186.1 C452.2,185.6 454.2,186.4 455.4,186.1 C456.6,185.8 458.4,183.8 459.8,183.9 C461.2,184.0 463.5,186.2 465.1,186.7 C466.7,187.2 469.4,186.7 471.5,187.8 C473.6,188.9 477.6,193.2 480.3,194.8 C483.0,196.4 487.9,199.3 490.8,199.2 C493.7,199.1 498.1,196.1 501.3,194.0 C504.5,191.9 509.9,187.0 513.6,184.3 C517.3,181.6 524.4,176.5 527.6,174.7 C530.8,172.9 533.9,172.2 536.4,171.2 C538.9,170.2 543.0,169.1 545.1,167.7 C547.2,166.3 549.7,164.2 551.2,161.5 C552.7,158.8 554.7,150.1 556.0,148.1 C557.3,146.1 559.0,148.2 560.8,147.4 C562.5,146.6 566.5,142.4 568.5,142.2 C570.5,142.0 573.4,145.9 575.4,146.0 C577.4,146.1 581.2,142.7 583.1,142.8 C585.0,142.9 587.9,146.7 589.3,146.7 C590.7,146.7 591.5,145.2 592.8,142.5 C594.1,139.8 596.9,133.2 598.3,127.2 C599.7,121.2 601.9,107.2 603.0,99.4 C604.1,91.6 605.4,73.5 606.2,71.3 C607.0,69.1 607.9,79.9 608.5,83.8 C609.1,87.7 610.1,98.1 610.8,99.4 C611.5,100.7 612.5,100.8 613.2,93.1 C613.9,85.4 615.2,47.8 616.0,44.7 C616.8,41.6 618.0,65.8 618.7,71.3 C619.4,76.8 620.3,85.5 621.0,83.8 C621.7,82.1 623.0,60.8 623.8,59.5 C624.6,58.2 625.8,70.9 626.5,74.4 C627.2,77.9 628.1,83.3 628.8,84.5 C629.5,85.7 630.4,83.9 631.2,83.0 C632.0,82.1 633.4,77.8 634.3,78.3 C635.2,78.8 636.5,87.9 637.4,86.9 C638.3,85.9 639.8,75.8 640.5,71.3 C641.2,66.8 641.9,52.5 642.6,54.8 C643.3,57.1 644.3,80.7 645.2,87.8 C646.1,94.9 647.8,102.4 648.7,105.2 C649.6,108.0 650.4,108.7 651.3,107.8 C652.2,106.9 653.9,98.5 654.8,99.1 C655.7,99.7 656.7,108.2 657.4,112.2 C658.1,116.2 659.3,124.1 660.0,127.8 C660.7,131.5 661.7,137.3 662.6,138.3 C663.5,139.3 665.1,137.7 666.1,134.8 C667.1,131.9 668.7,121.1 669.6,117.4 C670.5,113.7 671.5,108.9 672.2,108.7 C672.9,108.5 674.1,114.1 674.8,115.7 C675.5,117.3 677.1,119.4 677.5,120.0" fill="none" stroke="#7012e0" stroke-width="2.25" stroke-linejoin="round" stroke-linecap="round" />
</g>
<path d="M389.4,231.5 C389.6,231.3 390.4,230.4 390.8,230.2 C391.2,230.0 392.0,229.8 392.4,229.9 C392.8,230.0 393.5,230.5 394.0,231.0 C394.5,231.5 395.4,232.8 396.0,233.5 C396.6,234.2 397.7,235.5 398.3,235.9 C398.9,236.3 400.0,236.7 400.6,236.7 C401.2,236.7 402.0,236.3 402.6,235.8 C403.2,235.3 404.3,233.5 405.0,233.0 C405.7,232.5 406.7,231.9 407.3,231.9 C407.9,231.9 408.7,232.3 409.3,232.8 C409.9,233.3 411.1,234.7 411.8,235.2 C412.5,235.7 413.7,236.1 414.3,236.1 C414.9,236.1 415.7,235.5 416.3,235.0 C416.9,234.5 417.8,233.0 418.5,232.3 C419.2,231.6 420.2,230.7 421.0,230.3 C421.8,229.9 423.0,229.8 424.0,229.6 C425.0,229.4 426.7,229.5 428.3,229.1 C429.9,228.7 433.6,227.2 435.3,227.0 C437.0,226.8 439.4,227.5 440.6,227.7 C441.8,227.9 442.8,228.8 444.0,228.7 C445.2,228.6 447.8,227.4 449.3,227.0 C450.8,226.6 452.9,226.2 454.6,225.9 C456.3,225.6 459.6,225.4 461.6,224.7 C463.6,224.0 466.6,221.9 468.6,221.2 C470.6,220.5 473.6,220.3 475.6,219.9 C477.6,219.5 480.4,218.9 482.6,218.5 C484.8,218.1 488.9,217.8 491.4,217.1 C493.8,216.4 497.4,214.5 500.1,213.3 C502.8,212.1 507.6,209.7 510.5,208.5 C513.4,207.3 518.1,205.7 521.0,204.6 C523.9,203.5 528.6,201.7 531.5,200.6 C534.4,199.5 539.1,197.7 542.0,196.7 C544.9,195.7 549.5,195.1 552.5,193.6 C555.5,192.1 560.1,188.0 563.1,186.2 C566.1,184.4 570.7,182.7 573.6,180.9 C576.5,179.1 581.2,175.1 584.1,173.1 C587.0,171.1 591.7,168.3 594.6,166.5 C597.5,164.7 602.2,161.7 605.1,159.9 C608.0,158.1 613.0,154.9 615.6,153.4 C618.2,151.9 621.8,151.1 623.5,149.4 C625.2,147.7 626.5,143.1 627.4,141.5 C628.3,139.9 629.3,138.2 630.1,138.3 C630.9,138.4 632.6,142.2 633.4,142.5 C634.2,142.8 635.2,142.2 635.9,140.8 C636.6,139.4 637.7,135.4 638.4,132.6 C639.1,129.8 640.2,124.2 640.9,121.0 C641.6,117.8 642.6,111.5 643.3,110.0 C644.0,108.5 645.0,110.0 645.8,110.0 C646.6,110.0 648.2,110.0 649.1,110.0 C650.0,110.0 651.4,110.0 652.4,110.0 C653.4,110.0 655.5,114.2 656.5,110.0 C657.5,105.8 659.0,85.5 659.8,79.8 C660.6,74.1 661.6,69.5 662.3,69.0 C663.0,68.5 664.1,74.8 664.8,76.5 C665.5,78.2 666.6,79.1 667.3,81.4 C668.0,83.7 669.0,89.8 669.7,93.0 C670.4,96.2 671.5,100.8 672.2,104.5 C672.9,108.2 674.0,115.3 674.7,119.4 C675.4,123.5 677.1,132.0 677.5,134.0 L677.5,239.6 L389.4,239.6 Z" fill="#d4d4d4" fill-opacity="0.66" clip-path="url(#clipgb)"/>
<line x1="421.4" y1="239.6" x2="421.4" y2="236.1" stroke="#999" stroke-width="1"/>
<line x1="485.3" y1="239.6" x2="485.3" y2="236.1" stroke="#999" stroke-width="1"/>
<line x1="549.2" y1="239.6" x2="549.2" y2="236.1" stroke="#999" stroke-width="1"/>
<line x1="613.1" y1="239.6" x2="613.1" y2="236.1" stroke="#999" stroke-width="1"/>
<line x1="389.4" y1="170.2" x2="392.9" y2="170.2" stroke="#999" stroke-width="1"/>
<line x1="389.4" y1="100.8" x2="392.9" y2="100.8" stroke="#999" stroke-width="1"/>
<text transform="translate(421.4,253.2) scale(1.12,1)" font-size="10" text-anchor="middle" fill="#2a2a2a">20</text>
<text transform="translate(485.3,253.2) scale(1.12,1)" font-size="10" text-anchor="middle" fill="#2a2a2a">40</text>
<text transform="translate(549.2,253.2) scale(1.12,1)" font-size="10" text-anchor="middle" fill="#2a2a2a">60</text>
<text transform="translate(613.1,253.2) scale(1.12,1)" font-size="10" text-anchor="middle" fill="#2a2a2a">80</text>
<text transform="translate(677.0,253.2) scale(1.12,1)" font-size="10" text-anchor="middle" fill="#2a2a2a">100</text>
<text transform="translate(383.7,243.2) scale(1.06,1)" font-size="10" text-anchor="end" fill="#2a2a2a">0</text>
<text transform="translate(383.7,173.8) scale(1.06,1)" font-size="10" text-anchor="end" fill="#2a2a2a">1</text>
<text transform="translate(383.7,104.4) scale(1.06,1)" font-size="10" text-anchor="end" fill="#2a2a2a">2</text>
<text transform="translate(383.7,35.0) scale(1.06,1)" font-size="10" text-anchor="end" fill="#2a2a2a">3</text>
<text transform="translate(533.4,273.0) scale(1.1,1)" font-size="11" text-anchor="middle" fill="#2a2a2a">Wavenumber (cm<tspan font-size="7" dy="-4">−1</tspan><tspan dy="4">)</tspan></text>
<text transform="translate(366.8,135.1) rotate(-90) scale(1.11,1)" font-size="11" text-anchor="middle" fill="#2a2a2a">Real conductivity (Ω<tspan font-size="7" dy="-4">−1</tspan><tspan dy="4"> cm</tspan><tspan font-size="7" dy="-4">−1</tspan><tspan dy="4">)</tspan></text>
<line x1="404.2" y1="43.5" x2="415.9" y2="43.5" stroke="#f73b3b" stroke-width="1.8"/>
<text x="420.8" y="47.6" font-size="10.00" text-anchor="start" font-weight="normal" fill="#3a3a3a" >0 T</text>
<line x1="404.2" y1="57.0" x2="415.9" y2="57.0" stroke="#e6a832" stroke-width="1.8"/>
<text x="420.8" y="61.1" font-size="10.00" text-anchor="start" font-weight="normal" fill="#3a3a3a" >1 T</text>
<line x1="404.2" y1="70.6" x2="415.9" y2="70.6" stroke="#0ccf0c" stroke-width="1.8"/>
<text x="420.8" y="74.7" font-size="10.00" text-anchor="start" font-weight="normal" fill="#3a3a3a" >3 T</text>
<line x1="404.2" y1="84.2" x2="415.9" y2="84.2" stroke="#1aa3f5" stroke-width="1.8"/>
<text x="420.8" y="88.2" font-size="10.00" text-anchor="start" font-weight="normal" fill="#3a3a3a" >5 T</text>
<line x1="404.2" y1="97.7" x2="415.9" y2="97.7" stroke="#7012e0" stroke-width="1.8"/>
<text x="420.8" y="101.8" font-size="10.00" text-anchor="start" font-weight="normal" fill="#3a3a3a" >7 T</text>
<text x="355.4" y="14.1" font-size="16.50" text-anchor="start" font-weight="bold" fill="#000" stroke="#000" stroke-width="0.6">b</text>
<path d="M625.1,162.8 L663.9,183.8 L663.9,232.8 L625.1,211.8 Z" fill="#fede72"/><path d="M625.1,162.8 L629.1,160.5 L667.9,181.5 L663.9,183.8 Z" fill="#ffe797"/><path d="M663.9,183.8 L667.9,181.5 L667.9,230.5 L663.9,232.8 Z" fill="#e8c25e"/>
<line x1="582.5" y1="212.6" x2="582.7" y2="205.7" stroke="#111" stroke-width="1.90"/><path d="M582.8,201.0 L585.2,206.3 L580.2,206.1 Z" fill="#111"/><line x1="582.5" y1="212.6" x2="593.5" y2="207.1" stroke="#111" stroke-width="1.90"/><path d="M597.7,205.0 L594.2,209.6 L591.9,205.1 Z" fill="#111"/><line x1="582.5" y1="212.6" x2="591.3" y2="217.4" stroke="#111" stroke-width="1.90"/><path d="M595.4,219.6 L589.6,219.3 L592.0,214.9 Z" fill="#111"/><text x="573.5" y="194.2" font-size="8.6" font-weight="bold" fill="#111" stroke="#111" stroke-width="0.35">E<tspan stroke="none" font-size="6.2" font-weight="normal" fill="#555" dy="4.1">THz</tspan></text><text x="598.8" y="201.0" font-size="8.6" font-weight="bold" fill="#111" stroke="#111" stroke-width="0.35">k<tspan stroke="none" font-size="6.2" font-weight="normal" fill="#555" dy="3.5">THz</tspan></text><text x="586.3" y="231.4" font-size="8.6" font-weight="bold" fill="#111" stroke="#111" stroke-width="0.35">B<tspan stroke="none" font-size="6.2" font-weight="normal" fill="#555" dy="3.2">THz</tspan></text>
<text x="633.9" y="189.3" font-size="9.8" font-weight="bold" fill="#ff1a1a" stroke="#ff1a1a" stroke-width="0.35">H<tspan font-size="6.0" font-weight="normal" dy="4.1" dx="0.4" stroke-width="0.18">EXT</tspan></text>
<line x1="619.0" y1="211.0" x2="639.4" y2="200.0" stroke="#ff1a1a" stroke-width="2.10"/><path d="M644.2,197.4 L640.3,202.8 L637.5,197.7 Z" fill="#ff1a1a"/>
<line x1="38.0" y1="331.0" x2="326.0" y2="331.0" stroke="#aaa" stroke-width="1"/>
<line x1="325.5" y1="331.0" x2="325.5" y2="539.2" stroke="#777" stroke-width="1.1"/>
<line x1="37.2" y1="539.2" x2="326.0" y2="539.2" stroke="#808080" stroke-width="1.5"/>
<line x1="38.0" y1="330.5" x2="38.0" y2="539.2" stroke="#aaa" stroke-width="1.2"/>
<g clip-path="url(#clipc)">
<path d="M37.0,522.5 C38.0,522.4 42.4,521.6 44.3,521.5 C46.2,521.4 48.9,522.4 50.6,521.5 C52.4,520.6 55.0,517.1 56.8,515.0 C58.5,512.9 61.6,508.9 63.1,506.5 C64.6,504.1 66.1,499.8 67.3,497.5 C68.5,495.2 70.2,491.1 71.4,490.0 C72.6,488.9 74.4,488.9 75.6,489.5 C76.8,490.1 78.5,493.1 79.8,494.0 C81.1,494.9 83.5,496.3 85.0,496.0 C86.5,495.7 88.7,493.7 90.2,492.0 C91.7,490.3 93.9,486.2 95.4,483.6 C96.9,481.0 99.3,475.5 100.6,473.2 C101.9,470.9 103.8,467.5 104.8,467.0 C105.8,466.5 106.7,468.3 107.9,469.5 C109.1,470.7 111.5,474.3 113.1,475.8 C114.7,477.3 117.3,478.9 119.3,480.0 C121.3,481.1 125.4,483.1 127.7,484.0 C130.0,484.9 134.5,485.8 136.0,486.2 C137.5,486.6 136.8,487.4 138.3,486.8 C139.8,486.2 144.1,483.4 146.7,481.6 C149.3,479.8 154.2,476.5 157.1,474.0 C160.0,471.5 164.9,466.0 167.5,463.6 C170.1,461.2 173.5,457.9 175.8,457.0 C178.1,456.1 182.2,457.6 184.2,457.5 C186.2,457.4 188.7,456.5 190.4,456.0 C192.2,455.5 194.9,455.5 196.7,454.0 C198.4,452.5 201.2,447.8 202.9,445.0 C204.7,442.2 207.7,437.2 209.2,434.0 C210.7,430.8 212.1,425.4 213.3,422.0 C214.5,418.6 216.3,413.1 217.5,410.0 C218.7,406.9 220.5,401.2 221.7,399.8 C222.9,398.4 224.9,400.1 225.8,399.8 C226.7,399.5 227.4,397.6 228.3,397.5 C229.2,397.4 231.0,398.4 232.5,399.0 C234.0,399.6 237.1,402.0 238.8,402.1 C240.6,402.2 243.2,401.2 245.0,400.0 C246.8,398.8 249.6,396.1 251.3,393.8 C253.1,391.5 256.0,385.5 257.5,383.3 C259.0,381.1 260.2,378.7 261.7,378.1 C263.2,377.5 266.3,379.3 267.9,379.2 C269.5,379.1 271.9,379.4 273.1,377.1 C274.3,374.8 275.6,368.0 276.3,362.5 C277.0,357.0 277.8,341.1 278.3,337.5 C278.8,333.9 279.5,334.8 279.9,336.5 C280.3,338.2 280.8,344.0 281.4,350.0 C282.0,356.0 283.6,372.8 284.5,379.2 C285.4,385.6 286.7,392.3 287.6,395.8 C288.5,399.3 290.1,403.3 290.8,404.2 C291.5,405.1 292.1,400.9 292.8,402.1 C293.5,403.3 295.1,410.9 296.0,412.5 C296.9,414.1 298.2,415.2 299.1,413.5 C300.0,411.8 301.3,404.2 302.2,400.0 C303.1,395.8 304.3,384.0 305.3,383.3 C306.3,382.6 307.9,392.7 309.0,395.0 C310.1,397.3 311.9,400.4 313.0,400.0 C314.1,399.6 315.9,392.3 317.0,392.0 C318.1,391.7 319.8,397.2 321.0,398.0 C322.2,398.8 325.1,398.0 325.8,398.0" fill="none" stroke="#f73b3b" stroke-width="2.25" stroke-linejoin="round" stroke-linecap="round" />
<path d="M37.0,523.1 C38.0,523.0 42.4,522.2 44.3,522.1 C46.2,522.0 48.9,523.0 50.6,522.1 C52.4,521.2 55.0,517.8 56.8,515.8 C58.5,513.8 61.6,510.0 63.1,507.5 C64.6,505.0 66.1,500.4 67.3,498.1 C68.5,495.8 70.2,492.0 71.4,490.8 C72.6,489.6 74.4,489.2 75.6,489.8 C76.8,490.4 78.5,494.0 79.8,495.0 C81.1,496.0 83.5,497.4 85.0,497.1 C86.5,496.8 88.7,494.6 90.2,492.9 C91.7,491.1 93.9,487.2 95.4,484.6 C96.9,482.0 99.3,476.5 100.6,474.2 C101.9,471.9 103.8,468.5 104.8,467.9 C105.8,467.3 106.7,468.8 107.9,470.0 C109.1,471.2 111.5,474.8 113.1,476.3 C114.7,477.8 117.3,479.2 119.3,480.4 C121.3,481.6 125.4,483.7 127.7,484.6 C130.0,485.5 134.5,486.3 136.0,486.7 C137.5,487.1 136.8,487.9 138.3,487.3 C139.8,486.7 144.1,483.9 146.7,482.1 C149.3,480.4 154.2,477.3 157.1,474.8 C160.0,472.3 164.9,466.8 167.5,464.4 C170.1,462.0 173.5,458.4 175.8,457.5 C178.1,456.6 182.2,458.2 184.2,458.1 C186.2,458.0 188.7,457.1 190.4,456.7 C192.2,456.3 194.9,456.4 196.7,455.0 C198.4,453.6 201.2,449.3 202.9,446.7 C204.7,444.1 207.7,439.2 209.2,436.3 C210.7,433.4 212.1,428.7 213.3,425.8 C214.5,422.9 216.3,418.2 217.5,415.4 C218.7,412.6 220.5,407.7 221.7,406.0 C222.9,404.3 224.9,403.8 225.8,403.3 C226.7,402.8 227.1,402.6 228.3,402.1 C229.5,401.6 233.0,400.0 234.6,400.0 C236.2,400.0 238.3,403.9 239.8,402.1 C241.3,400.4 243.7,388.1 245.0,387.5 C246.3,386.9 248.0,395.0 249.2,397.9 C250.4,400.8 252.1,410.3 253.3,408.3 C254.5,406.3 256.6,388.3 257.5,383.3 C258.4,378.3 259.0,372.9 259.6,372.9 C260.2,372.9 261.0,380.4 261.7,383.3 C262.4,386.2 263.8,392.1 264.8,393.8 C265.8,395.6 267.8,401.3 269.0,395.8 C270.2,390.3 272.3,361.5 273.1,354.2 C273.9,346.9 274.2,343.2 274.6,343.8 C275.0,344.4 275.4,351.9 276.2,358.3 C277.0,364.7 279.1,383.2 280.3,389.6 C281.5,396.0 283.5,401.6 284.5,404.2 C285.5,406.8 286.7,407.0 287.6,408.3 C288.5,409.6 289.9,413.2 290.8,413.5 C291.7,413.8 292.9,412.0 293.9,410.4 C294.9,408.8 297.0,402.7 298.0,402.1 C299.0,401.5 300.2,405.7 301.2,406.3 C302.2,406.9 304.3,406.6 305.3,406.3 C306.3,406.0 307.5,408.0 308.5,404.2 C309.5,400.4 311.6,383.7 312.6,379.2 C313.7,374.7 315.0,372.6 316.0,372.0 C317.0,371.4 319.1,373.4 319.9,375.0 C320.7,376.6 321.4,379.8 322.0,383.3 C322.6,386.8 323.6,395.3 324.1,400.0 C324.6,404.7 325.6,414.4 325.8,416.7" fill="none" stroke="#e6a832" stroke-width="2.25" stroke-linejoin="round" stroke-linecap="round" />
<path d="M37.0,523.1 C38.6,523.0 45.7,523.1 48.5,522.1 C51.3,521.1 54.5,517.8 56.8,515.8 C59.1,513.8 63.2,510.7 65.2,507.5 C67.2,504.3 69.7,495.8 71.4,492.9 C73.2,490.0 76.0,486.8 77.7,486.7 C79.5,486.6 82.3,490.9 83.9,491.9 C85.5,492.9 87.5,494.4 89.1,494.0 C90.7,493.6 93.8,491.9 95.4,488.8 C97.0,485.7 99.0,475.3 100.6,472.1 C102.2,468.9 105.0,466.0 106.8,465.8 C108.5,465.6 111.1,469.2 113.1,471.0 C115.1,472.8 119.4,476.8 121.4,478.3 C123.4,479.8 125.7,480.8 127.7,481.5 C129.7,482.2 134.5,483.1 136.0,483.5 C137.5,483.9 136.8,484.7 138.3,484.2 C139.8,483.7 144.1,481.6 146.7,480.0 C149.3,478.4 154.2,474.5 157.1,472.7 C160.0,470.9 164.6,469.0 167.5,467.1 C170.4,465.2 175.0,461.0 177.9,459.2 C180.8,457.4 185.7,455.0 188.3,454.0 C190.9,453.0 194.4,453.5 196.7,451.9 C199.0,450.3 202.7,445.6 205.0,442.5 C207.3,439.4 211.3,433.9 213.3,430.0 C215.3,426.1 217.8,417.6 219.6,414.4 C221.3,411.2 224.3,409.8 225.8,407.1 C227.3,404.4 229.2,397.4 230.0,395.0 C230.8,392.6 230.6,389.5 231.5,389.6 C232.4,389.7 235.1,394.9 236.7,395.8 C238.3,396.7 241.3,394.6 242.9,395.8 C244.5,397.0 246.8,402.4 248.1,404.2 C249.4,405.9 251.3,410.9 252.3,408.3 C253.3,405.7 254.7,391.5 255.4,385.4 C256.1,379.3 256.9,366.6 257.5,364.6 C258.1,362.6 259.0,367.6 259.6,370.8 C260.2,374.0 260.8,384.0 261.7,387.5 C262.6,391.0 264.8,394.3 265.8,395.8 C266.8,397.3 268.0,399.1 269.0,397.9 C270.0,396.7 272.1,390.1 273.1,387.5 C274.1,384.9 275.3,379.8 276.2,379.2 C277.1,378.6 278.4,382.1 279.3,383.3 C280.2,384.5 281.2,390.4 282.4,387.5 C283.6,384.6 286.4,362.5 287.6,362.5 C288.8,362.5 289.9,382.5 290.8,387.5 C291.7,392.5 292.9,399.5 293.9,397.9 C294.9,396.3 297.0,376.0 298.0,376.0 C299.0,376.0 300.3,392.2 301.2,397.9 C302.1,403.6 303.4,415.2 304.3,416.7 C305.2,418.2 306.3,410.9 307.4,408.3 C308.5,405.7 310.8,399.7 312.0,398.0 C313.2,396.3 314.9,395.7 316.0,396.0 C317.1,396.3 318.6,398.9 320.0,400.0 C321.4,401.1 325.0,403.4 325.8,404.0" fill="none" stroke="#0ccf0c" stroke-width="2.25" stroke-linejoin="round" stroke-linecap="round" />
<path d="M37.0,526.3 C38.9,526.4 47.5,528.2 50.6,527.3 C53.7,526.4 56.6,522.2 58.9,520.0 C61.2,517.8 65.0,514.9 67.3,511.7 C69.6,508.5 73.6,501.5 75.6,497.1 C77.6,492.7 80.3,483.4 81.8,480.4 C83.3,477.4 84.7,476.6 86.0,475.8 C87.3,475.0 89.7,473.7 91.2,474.6 C92.7,475.5 95.1,480.6 96.4,482.5 C97.7,484.4 99.4,488.0 100.6,488.3 C101.8,488.6 103.5,487.2 104.8,484.6 C106.1,482.0 108.5,473.5 110.0,470.0 C111.5,466.5 113.6,460.8 115.2,459.6 C116.8,458.4 119.7,460.2 121.4,461.7 C123.2,463.2 126.0,468.1 127.7,470.0 C129.4,471.9 132.1,474.3 133.9,475.2 C135.7,476.1 138.0,476.9 140.4,476.3 C142.8,475.7 147.9,472.4 150.8,470.6 C153.7,468.9 158.7,464.7 161.3,463.8 C163.9,462.9 167.0,465.0 169.6,464.4 C172.2,463.8 177.4,460.5 180.0,459.2 C182.6,457.9 186.0,456.5 188.3,455.0 C190.6,453.5 194.4,450.8 196.7,448.8 C199.0,446.8 202.7,442.4 205.0,440.4 C207.3,438.4 211.0,435.9 213.3,434.2 C215.6,432.4 220.2,429.9 221.7,427.9 C223.2,425.9 223.3,424.2 224.2,420.0 C225.1,415.8 227.0,403.0 228.3,397.9 C229.6,392.8 232.0,385.2 233.5,383.3 C235.0,381.4 237.6,385.3 238.8,384.4 C240.0,383.5 241.2,381.6 241.9,377.1 C242.6,372.6 243.5,360.0 244.0,352.1 C244.5,344.2 244.9,328.4 245.2,320.8 C245.5,313.2 246.0,301.5 246.3,298.0 C246.6,294.5 247.2,295.3 247.6,296.0 C248.0,296.7 248.5,303.0 248.9,303.0 C249.3,303.0 249.8,296.7 250.2,296.0 C250.6,295.3 251.2,294.5 251.5,298.0 C251.8,301.5 252.3,313.2 252.6,320.8 C252.9,328.4 253.4,345.4 253.8,352.1 C254.2,358.8 254.7,364.9 255.4,368.8 C256.1,372.7 257.6,378.3 258.5,380.2 C259.4,382.1 260.8,380.7 261.7,382.3 C262.6,383.9 263.9,389.8 264.8,391.7 C265.7,393.6 267.0,397.0 267.9,395.8 C268.8,394.6 270.3,389.7 271.0,383.3 C271.7,376.9 272.6,355.0 273.1,350.0 C273.6,345.0 273.9,345.3 274.3,347.9 C274.7,350.5 275.5,363.3 276.2,368.8 C276.9,374.3 278.4,383.7 279.3,387.5 C280.2,391.3 281.4,395.8 282.4,395.8 C283.4,395.8 285.4,389.5 286.6,387.5 C287.8,385.5 289.6,381.3 290.8,381.3 C292.0,381.3 293.7,384.6 294.9,387.5 C296.1,390.4 298.1,402.7 299.1,402.1 C300.1,401.5 301.6,391.8 302.2,383.3 C302.8,374.8 303.4,353.6 303.7,341.7 C304.0,329.8 304.1,304.1 304.3,298.0 C304.5,291.9 305.1,290.4 305.3,298.0 C305.5,305.6 305.7,339.6 306.0,352.1 C306.3,364.6 306.9,382.0 307.4,387.5 C307.9,393.0 308.8,392.9 309.5,391.7 C310.2,390.5 311.8,382.1 312.6,379.2 C313.4,376.3 314.4,370.8 315.1,370.8 C315.8,370.8 317.0,375.4 317.8,379.2 C318.6,383.0 320.2,393.8 321.0,397.9 C321.8,402.0 323.0,406.3 323.7,408.3 C324.4,410.3 325.5,411.9 325.8,412.5" fill="none" stroke="#1aa3f5" stroke-width="2.25" stroke-linejoin="round" stroke-linecap="round" />
<path d="M37.0,526.3 C38.0,526.4 42.4,526.9 44.3,527.3 C46.2,527.6 48.9,528.9 50.6,528.8 C52.4,528.7 54.8,526.9 56.8,526.3 C58.8,525.7 63.2,525.4 65.2,524.2 C67.2,523.0 69.7,519.9 71.4,517.9 C73.2,515.9 76.0,512.2 77.7,509.6 C79.5,507.0 82.2,502.1 83.9,499.2 C85.7,496.3 88.5,491.7 90.2,488.8 C92.0,485.9 94.7,481.4 96.4,478.3 C98.2,475.2 101.1,469.4 102.7,466.9 C104.3,464.4 106.4,462.0 107.9,460.6 C109.4,459.2 111.6,456.9 113.1,457.1 C114.6,457.3 116.8,460.0 118.3,461.7 C119.8,463.4 122.2,469.0 123.5,469.0 C124.8,469.0 126.6,464.4 127.7,461.7 C128.8,459.0 130.6,451.4 131.5,450.0 C132.4,448.6 133.3,451.0 134.0,452.0 C134.7,453.0 135.1,456.1 136.3,457.1 C137.5,458.1 140.5,458.2 142.5,458.8 C144.5,459.4 148.5,462.3 150.8,461.7 C153.1,461.1 156.9,455.7 159.2,454.6 C161.5,453.5 165.2,453.9 167.5,454.0 C169.8,454.1 173.5,455.0 175.8,455.0 C178.1,455.0 181.9,454.9 184.2,454.0 C186.5,453.1 190.5,450.1 192.5,448.8 C194.5,447.5 197.1,446.4 198.8,444.6 C200.6,442.9 203.5,438.1 205.0,436.3 C206.5,434.6 207.4,433.0 209.2,432.1 C210.9,431.2 215.5,430.3 217.5,430.0 C219.5,429.7 222.1,430.7 223.8,430.0 C225.6,429.3 227.9,427.7 230.0,424.8 C232.1,421.9 236.7,412.3 238.8,409.4 C240.9,406.5 243.5,406.1 245.0,404.2 C246.5,402.3 248.0,399.3 249.2,395.8 C250.4,392.3 252.1,385.3 253.3,379.2 C254.5,373.1 256.5,358.8 257.5,352.1 C258.5,345.4 259.9,332.8 260.6,331.3 C261.3,329.8 262.1,338.2 262.7,341.7 C263.3,345.2 264.1,353.5 264.8,356.3 C265.5,359.1 267.0,359.8 267.9,361.5 C268.8,363.2 270.0,366.2 271.0,368.8 C272.0,371.4 273.9,378.0 275.1,380.2 C276.3,382.4 278.3,384.5 279.3,384.4 C280.3,384.3 281.5,382.6 282.4,379.2 C283.3,375.8 284.8,364.5 285.5,360.4 C286.2,356.3 286.9,349.1 287.6,350.0 C288.3,350.9 289.9,361.4 290.8,366.7 C291.7,371.9 293.0,384.0 293.9,387.5 C294.8,391.0 296.1,393.4 297.0,391.7 C297.9,389.9 299.2,380.0 300.1,375.0 C301.0,370.0 302.6,358.3 303.3,356.3 C304.0,354.3 304.7,356.6 305.3,360.4 C305.9,364.2 306.7,378.3 307.4,383.3 C308.1,388.3 309.3,393.5 310.5,395.8 C311.7,398.1 314.5,398.8 315.8,400.0 C317.1,401.2 318.9,402.4 319.9,404.2 C320.9,405.9 322.2,412.2 323.0,412.5 C323.8,412.8 325.4,407.2 325.8,406.3" fill="none" stroke="#7012e0" stroke-width="2.25" stroke-linejoin="round" stroke-linecap="round" />
</g>
<path d="M37.9,531.6 C38.3,531.4 40.0,530.2 40.8,530.3 C41.6,530.4 43.0,531.8 43.9,532.5 C44.8,533.2 46.6,535.0 47.4,535.6 C48.2,536.2 48.9,536.7 49.6,536.5 C50.3,536.3 51.3,535.0 52.2,534.3 C53.1,533.6 55.1,531.3 56.1,531.2 C57.1,531.1 58.6,532.8 59.6,533.4 C60.6,534.0 62.3,535.6 63.2,535.6 C64.1,535.6 65.3,534.1 66.2,533.4 C67.1,532.7 68.4,530.9 69.3,530.3 C70.2,529.7 71.7,529.2 72.8,529.0 C73.9,528.8 76.0,528.9 77.2,528.6 C78.4,528.3 80.5,527.2 81.5,526.8 C82.5,526.4 83.6,526.0 84.6,526.0 C85.6,526.0 87.5,526.6 88.6,526.8 C89.6,527.0 91.1,527.6 92.1,527.7 C93.1,527.8 94.3,527.7 96.0,527.3 C97.7,526.9 101.7,525.6 104.3,524.7 C106.9,523.8 111.9,521.6 114.8,520.7 C117.7,519.8 122.4,518.7 125.3,518.1 C128.2,517.5 132.8,517.0 135.8,516.3 C138.8,515.6 143.4,514.0 146.4,512.8 C149.4,511.6 154.0,508.9 156.9,507.6 C159.8,506.3 164.5,504.7 167.4,503.6 C170.3,502.5 175.0,500.8 177.9,499.7 C180.8,498.6 185.5,497.1 188.4,495.8 C191.3,494.5 196.0,491.8 198.9,490.5 C201.8,489.2 206.1,488.0 209.4,486.6 C212.7,485.2 218.9,482.2 222.2,480.3 C225.5,478.4 230.2,475.4 233.3,473.3 C236.4,471.2 241.3,467.3 244.4,465.0 C247.5,462.7 252.5,458.8 255.6,456.7 C258.7,454.6 264.2,451.6 266.7,449.7 C269.2,447.8 272.0,444.7 273.6,442.8 C275.2,440.9 276.8,436.4 277.8,435.8 C278.8,435.2 279.8,438.0 280.6,438.6 C281.4,439.2 282.5,441.4 283.3,440.0 C284.1,438.6 285.3,432.0 286.1,428.9 C286.9,425.8 288.1,419.9 288.9,417.8 C289.7,415.7 290.5,414.8 291.7,413.6 C292.9,412.4 295.3,410.4 297.2,409.4 C299.1,408.4 304.0,409.4 305.6,406.7 C307.2,404.0 307.9,395.4 308.6,390.0 C309.3,384.6 310.3,370.7 310.8,368.0 C311.3,365.3 311.8,369.7 312.5,371.0 C313.2,372.3 314.9,375.3 316.0,377.0 C317.1,378.7 319.0,380.9 320.0,383.0 C321.0,385.1 322.2,389.3 323.0,392.0 C323.8,394.7 325.4,400.6 325.8,402.0 L325.8,539.2 L37.9,539.2 Z" fill="#bcbcbc" fill-opacity="0.66" clip-path="url(#clipgc)"/>
<line x1="69.9" y1="539.2" x2="69.9" y2="535.7" stroke="#999" stroke-width="1"/>
<line x1="133.8" y1="539.2" x2="133.8" y2="535.7" stroke="#999" stroke-width="1"/>
<line x1="197.7" y1="539.2" x2="197.7" y2="535.7" stroke="#999" stroke-width="1"/>
<line x1="261.6" y1="539.2" x2="261.6" y2="535.7" stroke="#999" stroke-width="1"/>
<line x1="38.0" y1="469.8" x2="41.5" y2="469.8" stroke="#999" stroke-width="1"/>
<line x1="38.0" y1="400.4" x2="41.5" y2="400.4" stroke="#999" stroke-width="1"/>
<text transform="translate(69.9,552.8) scale(1.12,1)" font-size="10" text-anchor="middle" fill="#2a2a2a">20</text>
<text transform="translate(133.8,552.8) scale(1.12,1)" font-size="10" text-anchor="middle" fill="#2a2a2a">40</text>
<text transform="translate(197.7,552.8) scale(1.12,1)" font-size="10" text-anchor="middle" fill="#2a2a2a">60</text>
<text transform="translate(261.6,552.8) scale(1.12,1)" font-size="10" text-anchor="middle" fill="#2a2a2a">80</text>
<text transform="translate(325.5,552.8) scale(1.12,1)" font-size="10" text-anchor="middle" fill="#2a2a2a">100</text>
<text transform="translate(32.2,542.8) scale(1.06,1)" font-size="10" text-anchor="end" fill="#2a2a2a">0</text>
<text transform="translate(32.2,473.4) scale(1.06,1)" font-size="10" text-anchor="end" fill="#2a2a2a">1</text>
<text transform="translate(32.2,404.0) scale(1.06,1)" font-size="10" text-anchor="end" fill="#2a2a2a">2</text>
<text transform="translate(32.2,334.6) scale(1.06,1)" font-size="10" text-anchor="end" fill="#2a2a2a">3</text>
<text transform="translate(181.9,572.6) scale(1.1,1)" font-size="11" text-anchor="middle" fill="#2a2a2a">Wavenumber (cm<tspan font-size="7" dy="-4">−1</tspan><tspan dy="4">)</tspan></text>
<text transform="translate(15.4,434.7) rotate(-90) scale(1.11,1)" font-size="11" text-anchor="middle" fill="#2a2a2a">Real conductivity (Ω<tspan font-size="7" dy="-4">−1</tspan><tspan dy="4"> cm</tspan><tspan font-size="7" dy="-4">−1</tspan><tspan dy="4">)</tspan></text>
<line x1="47.5" y1="343.7" x2="59.2" y2="343.7" stroke="#f73b3b" stroke-width="1.8"/>
<text x="64.3" y="347.8" font-size="10.00" text-anchor="start" font-weight="normal" fill="#3a3a3a" >0 T</text>
<line x1="47.5" y1="357.2" x2="59.2" y2="357.2" stroke="#e6a832" stroke-width="1.8"/>
<text x="64.3" y="361.3" font-size="10.00" text-anchor="start" font-weight="normal" fill="#3a3a3a" >1 T</text>
<line x1="47.5" y1="370.7" x2="59.2" y2="370.7" stroke="#0ccf0c" stroke-width="1.8"/>
<text x="64.3" y="374.8" font-size="10.00" text-anchor="start" font-weight="normal" fill="#3a3a3a" >3 T</text>
<line x1="47.5" y1="384.2" x2="59.2" y2="384.2" stroke="#1aa3f5" stroke-width="1.8"/>
<text x="64.3" y="388.3" font-size="10.00" text-anchor="start" font-weight="normal" fill="#3a3a3a" >5 T</text>
<line x1="47.5" y1="397.7" x2="59.2" y2="397.7" stroke="#7012e0" stroke-width="1.8"/>
<text x="64.3" y="401.8" font-size="10.00" text-anchor="start" font-weight="normal" fill="#3a3a3a" >7 T</text>
<text x="4.0" y="311.3" font-size="16.50" text-anchor="start" font-weight="bold" fill="#000" stroke="#000" stroke-width="0.6">c</text>
<path d="M273.6,464.1 L312.4,485.1 L312.4,534.1 L273.6,513.1 Z" fill="#fede72"/><path d="M273.6,464.1 L277.6,461.8 L316.4,482.8 L312.4,485.1 Z" fill="#ffe797"/><path d="M312.4,485.1 L316.4,482.8 L316.4,531.8 L312.4,534.1 Z" fill="#e8c25e"/>
<line x1="231.1" y1="514.2" x2="231.3" y2="507.3" stroke="#111" stroke-width="1.90"/><path d="M231.4,502.6 L233.8,507.9 L228.8,507.7 Z" fill="#111"/><line x1="231.1" y1="514.2" x2="242.1" y2="508.7" stroke="#111" stroke-width="1.90"/><path d="M246.3,506.6 L242.8,511.2 L240.5,506.7 Z" fill="#111"/><line x1="231.1" y1="514.2" x2="239.9" y2="519.0" stroke="#111" stroke-width="1.90"/><path d="M244.0,521.2 L238.2,520.9 L240.6,516.5 Z" fill="#111"/><text x="222.1" y="495.8" font-size="8.6" font-weight="bold" fill="#111" stroke="#111" stroke-width="0.35">E<tspan stroke="none" font-size="6.2" font-weight="normal" fill="#555" dy="4.1">THz</tspan></text><text x="247.4" y="502.6" font-size="8.6" font-weight="bold" fill="#111" stroke="#111" stroke-width="0.35">k<tspan stroke="none" font-size="6.2" font-weight="normal" fill="#555" dy="3.5">THz</tspan></text><text x="234.9" y="533.0" font-size="8.6" font-weight="bold" fill="#111" stroke="#111" stroke-width="0.35">B<tspan stroke="none" font-size="6.2" font-weight="normal" fill="#555" dy="3.2">THz</tspan></text>
<text x="282.1" y="489.3" font-size="9.8" font-weight="bold" fill="#ff1a1a" stroke="#ff1a1a" stroke-width="0.35">H<tspan font-size="6.0" font-weight="normal" dy="4.1" dx="0.4" stroke-width="0.18">EXT</tspan></text>
<line x1="288.9" y1="523.6" x2="288.9" y2="499.2" stroke="#ff1a1a" stroke-width="2.10"/><path d="M288.9,493.7 L291.8,499.7 L286.0,499.7 Z" fill="#ff1a1a"/>
<line x1="389.4" y1="331.0" x2="677.5" y2="331.0" stroke="#999" stroke-width="1"/>
<line x1="677.0" y1="331.0" x2="677.0" y2="539.2" stroke="#999" stroke-width="1.1"/>
<line x1="388.7" y1="539.2" x2="677.5" y2="539.2" stroke="#999" stroke-width="1.5"/>
<line x1="389.4" y1="330.5" x2="389.4" y2="539.2" stroke="#666" stroke-width="1.2"/>
<g clip-path="url(#clipd)">
<path d="M389.2,511.9 C389.5,512.6 390.7,515.3 391.6,516.8 C392.5,518.3 394.1,522.2 395.3,522.9 C396.5,523.6 398.7,522.9 400.2,521.7 C401.7,520.5 404.5,516.4 406.2,514.4 C407.9,512.4 410.6,509.8 412.3,507.1 C414.0,504.4 416.8,498.0 418.4,494.9 C420.0,491.8 422.6,485.9 424.0,485.2 C425.4,484.5 426.7,488.3 428.1,490.0 C429.5,491.7 432.7,496.3 434.2,497.3 C435.7,498.3 437.6,499.0 439.1,497.3 C440.6,495.6 443.5,488.9 445.2,485.2 C446.9,481.5 449.8,473.4 451.3,470.6 C452.8,467.8 454.7,464.9 456.1,465.2 C457.5,465.5 459.3,470.6 461.0,473.0 C462.7,475.4 466.3,480.5 468.3,482.7 C470.3,484.9 473.7,487.6 475.6,488.8 C477.5,490.0 479.9,490.8 481.7,491.2 C483.5,491.6 486.2,492.2 488.3,491.5 C490.4,490.8 494.4,488.0 496.7,486.3 C499.0,484.6 502.7,481.1 505.0,479.6 C507.3,478.1 511.0,477.2 513.3,475.8 C515.6,474.4 519.4,470.8 521.7,469.6 C524.0,468.4 527.7,467.7 530.0,467.1 C532.3,466.5 536.0,465.8 538.3,465.4 C540.6,465.0 544.7,465.0 546.7,464.4 C548.7,463.8 551.1,463.3 552.9,461.3 C554.6,459.3 557.5,453.8 559.2,450.0 C561.0,446.2 563.9,437.9 565.4,434.0 C566.9,430.1 568.9,425.2 570.0,421.8 C571.1,418.4 572.6,411.1 573.6,409.7 C574.6,408.3 576.1,412.5 577.3,412.1 C578.5,411.8 580.8,408.6 582.2,407.2 C583.6,405.8 585.6,402.4 587.0,402.4 C588.4,402.4 590.5,405.8 591.9,407.2 C593.3,408.6 595.3,411.1 596.7,412.1 C598.1,413.1 599.9,415.0 601.6,414.5 C603.3,414.0 607.0,409.9 608.9,408.4 C610.8,406.9 613.5,405.8 615.0,403.6 C616.5,401.4 618.6,393.5 619.8,392.6 C621.0,391.7 622.3,401.2 623.5,397.5 C624.7,393.8 627.3,370.3 628.3,365.9 C629.3,361.5 630.2,362.5 630.9,365.9 C631.6,369.3 632.7,385.1 633.4,390.2 C634.1,395.3 635.1,399.3 635.8,402.4 C636.5,405.5 637.3,412.1 638.2,412.1 C639.1,412.1 641.0,406.8 641.9,402.4 C642.8,398.0 643.6,382.2 644.3,380.5 C645.0,378.8 645.7,385.4 646.7,390.2 C647.7,395.0 650.1,411.4 651.6,414.5 C653.1,417.6 656.2,413.1 657.7,412.1 C659.2,411.1 661.1,406.9 662.5,407.2 C663.9,407.5 666.2,417.9 667.4,414.5 C668.6,411.1 670.2,390.0 671.0,382.9 C671.8,375.8 672.5,363.5 673.0,363.5 C673.5,363.5 674.1,378.5 674.7,382.9 C675.3,387.3 677.1,393.4 677.5,395.1" fill="none" stroke="#f73b3b" stroke-width="2.25" stroke-linejoin="round" stroke-linecap="round" />
<path d="M389.2,511.9 C389.5,512.6 390.7,515.3 391.6,516.8 C392.5,518.3 394.1,522.2 395.3,522.9 C396.5,523.6 398.7,522.9 400.2,521.7 C401.7,520.5 404.5,516.4 406.2,514.4 C407.9,512.4 410.6,509.7 412.3,507.1 C414.0,504.5 416.8,498.4 418.4,495.5 C420.0,492.6 422.6,487.2 424.0,486.5 C425.4,485.8 426.7,489.0 428.1,490.5 C429.5,492.0 432.7,496.3 434.2,497.3 C435.7,498.3 437.6,498.9 439.1,497.3 C440.6,495.7 443.5,489.5 445.2,486.0 C446.9,482.5 449.8,474.7 451.3,472.0 C452.8,469.3 454.7,466.3 456.1,466.5 C457.5,466.7 459.3,471.2 461.0,473.5 C462.7,475.8 466.3,480.6 468.3,482.7 C470.3,484.8 474.0,487.9 475.6,488.8 C477.2,489.7 478.2,489.0 480.0,489.4 C481.8,489.8 486.0,491.9 488.3,491.5 C490.6,491.1 494.4,488.0 496.7,486.3 C499.0,484.6 502.7,481.1 505.0,479.6 C507.3,478.1 511.0,477.2 513.3,475.8 C515.6,474.4 519.4,470.8 521.7,469.6 C524.0,468.4 527.7,467.7 530.0,467.1 C532.3,466.5 536.0,465.8 538.3,465.4 C540.6,465.0 544.7,464.8 546.7,464.4 C548.7,464.0 551.1,463.9 552.9,462.3 C554.6,460.7 557.5,456.0 559.2,452.9 C561.0,449.8 563.9,443.4 565.4,440.4 C566.9,437.4 568.9,435.1 570.0,431.5 C571.1,427.9 572.4,418.6 573.6,414.5 C574.8,410.4 577.1,403.4 578.5,402.4 C579.9,401.4 581.9,407.0 583.4,407.2 C584.9,407.4 587.9,403.1 589.4,403.6 C590.9,404.1 592.8,409.4 594.3,410.9 C595.8,412.4 598.7,413.6 600.4,414.5 C602.1,415.4 605.0,417.7 606.5,417.0 C608.0,416.3 609.9,410.4 611.3,409.7 C612.7,409.0 615.2,415.9 616.2,412.1 C617.2,408.3 618.1,392.4 618.6,382.9 C619.1,373.4 619.4,344.0 619.8,344.0 C620.2,344.0 621.1,375.7 621.5,382.9 C621.9,390.1 621.9,391.7 622.4,395.1 C622.9,398.5 623.9,408.9 624.9,407.2 C625.9,405.5 628.6,384.6 629.7,382.9 C630.8,381.2 632.0,391.9 633.0,395.0 C634.0,398.1 635.9,405.0 637.0,405.0 C638.1,405.0 639.6,400.8 641.0,395.0 C642.4,389.2 645.6,369.3 646.7,363.5 C647.8,357.7 648.2,351.1 648.7,353.8 C649.2,356.5 649.8,378.5 650.4,382.9 C651.0,387.3 651.9,383.7 652.8,385.4 C653.7,387.1 655.3,391.0 656.5,395.1 C657.7,399.2 660.1,409.1 661.3,414.5 C662.5,419.9 664.0,429.9 665.0,434.0 C666.0,438.1 667.6,443.4 668.6,443.7 C669.6,444.0 671.1,440.1 672.3,436.4 C673.5,432.7 676.8,419.7 677.5,417.0" fill="none" stroke="#e6a832" stroke-width="2.25" stroke-linejoin="round" stroke-linecap="round" />
<path d="M389.2,524.1 C389.9,524.6 392.6,527.9 394.1,527.7 C395.6,527.5 398.3,524.8 400.2,522.9 C402.1,521.0 405.5,517.0 407.5,514.4 C409.5,511.8 412.8,507.3 414.8,504.6 C416.8,501.9 420.2,496.9 422.1,494.9 C424.0,492.9 426.6,490.2 428.1,490.0 C429.6,489.8 431.6,492.5 433.0,493.7 C434.4,494.9 436.4,498.7 437.9,498.5 C439.4,498.3 442.3,495.4 444.0,492.5 C445.7,489.6 448.1,481.4 450.0,477.9 C451.9,474.4 455.4,468.3 457.3,467.6 C459.2,466.9 461.5,470.9 463.4,473.0 C465.3,475.1 468.7,480.5 470.7,482.7 C472.7,484.9 475.5,487.4 478.0,488.8 C480.5,490.2 485.7,493.0 488.3,492.5 C490.9,492.0 494.4,487.2 496.7,485.2 C499.0,483.2 502.7,479.1 505.0,477.9 C507.3,476.7 511.0,477.8 513.3,476.9 C515.6,476.0 519.4,472.7 521.7,471.7 C524.0,470.7 527.4,470.5 530.0,469.6 C532.6,468.7 537.8,465.7 540.4,465.4 C543.0,465.1 546.5,467.5 548.8,467.5 C551.1,467.5 554.8,467.1 557.1,465.4 C559.4,463.6 563.6,457.7 565.4,455.0 C567.2,452.3 568.7,450.4 570.0,446.1 C571.3,441.8 573.4,428.8 574.9,424.2 C576.4,419.6 579.4,414.8 580.9,413.3 C582.4,411.8 584.3,412.8 585.8,413.3 C587.3,413.8 590.4,415.8 591.9,417.0 C593.4,418.2 595.3,419.8 596.7,421.8 C598.1,423.8 600.2,430.8 601.6,431.5 C603.0,432.2 605.0,428.7 606.5,426.7 C608.0,424.7 611.1,420.4 612.5,417.0 C613.9,413.6 615.4,407.2 616.2,402.4 C617.0,397.6 617.6,384.3 618.1,382.9 C618.6,381.5 619.2,390.2 619.8,392.6 C620.4,395.0 621.6,398.9 622.3,399.9 C623.0,400.9 624.0,399.4 624.9,399.9 C625.8,400.4 627.7,406.0 628.5,403.6 C629.3,401.2 630.3,392.6 630.9,382.9 C631.5,373.2 632.2,344.0 632.6,334.3 C633.0,324.6 633.5,310.2 633.9,313.6 C634.2,317.0 634.7,346.2 635.1,358.6 C635.5,371.0 636.4,394.9 637.0,402.4 C637.6,409.9 638.5,413.5 639.4,412.1 C640.3,410.7 642.3,397.0 643.1,392.6 C643.9,388.2 644.5,381.2 645.0,380.5 C645.5,379.8 646.2,386.1 646.7,387.8 C647.2,389.5 648.2,396.7 648.7,392.6 C649.2,388.5 649.9,369.3 650.4,358.6 C650.9,347.9 651.8,316.1 652.3,316.1 C652.8,316.1 653.4,345.8 654.0,358.6 C654.6,371.4 655.6,398.4 656.5,407.2 C657.4,416.0 659.1,420.4 660.1,421.8 C661.1,423.2 662.8,419.7 663.8,417.0 C664.8,414.3 666.4,403.8 667.4,402.4 C668.4,401.0 670.0,405.5 671.0,407.2 C672.0,408.9 673.8,413.1 674.7,414.5 C675.6,415.9 677.1,416.6 677.5,417.0" fill="none" stroke="#0ccf0c" stroke-width="2.25" stroke-linejoin="round" stroke-linecap="round" />
<path d="M389.2,527.0 C390.1,527.7 393.4,531.4 395.3,532.0 C397.2,532.6 400.6,532.0 402.6,531.5 C404.6,531.0 407.9,529.3 409.9,528.3 C411.9,527.3 415.2,526.1 417.2,524.5 C419.2,522.9 422.5,519.6 424.5,516.8 C426.5,514.0 429.9,508.0 431.8,504.6 C433.7,501.2 436.2,495.3 437.9,492.5 C439.6,489.7 442.3,486.1 444.0,484.7 C445.7,483.3 448.5,483.3 450.0,482.7 C451.5,482.1 453.4,483.0 454.9,480.3 C456.4,477.6 459.6,467.6 461.0,463.3 C462.4,459.0 463.6,450.9 464.6,449.9 C465.6,448.9 466.9,453.1 468.3,456.0 C469.7,458.9 472.5,466.9 474.4,470.6 C476.3,474.3 480.0,480.4 481.7,482.7 C483.4,485.0 484.8,486.8 486.3,487.3 C487.8,487.8 490.5,487.3 492.5,486.3 C494.5,485.3 498.2,481.5 500.8,480.0 C503.4,478.5 508.7,476.2 511.3,475.8 C513.9,475.4 517.0,477.5 519.6,476.9 C522.2,476.3 527.1,473.3 530.0,471.7 C532.9,470.1 537.8,466.3 540.4,465.4 C543.0,464.5 546.5,464.8 548.8,465.4 C551.1,466.0 554.8,469.3 557.1,469.6 C559.4,469.9 563.4,468.7 565.4,467.5 C567.4,466.3 570.1,463.3 571.7,461.3 C573.3,459.3 575.7,454.9 576.9,452.9 C578.1,450.9 578.6,449.7 580.0,446.7 C581.4,443.7 585.0,434.8 587.0,431.5 C589.0,428.2 592.3,424.9 594.3,423.0 C596.3,421.1 599.9,418.4 601.6,418.2 C603.3,418.0 605.1,420.3 606.5,421.8 C607.9,423.3 609.9,427.6 611.3,429.1 C612.7,430.6 614.8,433.7 616.2,432.7 C617.6,431.7 620.0,424.3 621.0,421.8 C622.0,419.3 622.7,414.8 623.6,414.5 C624.5,414.2 626.3,418.4 627.3,419.4 C628.3,420.4 629.9,426.9 630.9,421.8 C631.9,416.7 633.8,390.0 634.6,382.9 C635.4,375.8 636.0,368.1 636.5,370.8 C637.0,373.5 637.6,394.9 638.2,402.4 C638.8,409.9 639.8,419.4 640.7,424.2 C641.6,429.0 643.1,436.4 644.3,436.4 C645.5,436.4 647.8,426.7 649.2,424.2 C650.6,421.7 652.6,419.6 654.0,418.2 C655.4,416.8 657.5,416.0 658.9,414.5 C660.3,413.0 662.4,410.3 663.8,407.2 C665.2,404.1 667.6,391.9 668.6,392.6 C669.6,393.3 670.1,405.3 671.0,412.1 C671.9,418.9 673.8,439.3 674.7,441.3 C675.6,443.3 677.1,428.7 677.5,426.7" fill="none" stroke="#1aa3f5" stroke-width="2.25" stroke-linejoin="round" stroke-linecap="round" />
<path d="M389.2,524.1 C390.1,525.3 393.4,531.6 395.3,532.6 C397.2,533.6 400.2,531.9 402.6,531.4 C405.0,530.9 409.6,529.5 412.3,529.0 C415.0,528.5 419.4,528.1 422.1,527.7 C424.8,527.4 429.1,527.2 431.8,526.5 C434.5,525.8 439.1,523.9 441.5,522.9 C443.9,521.9 446.9,520.4 448.8,519.2 C450.7,518.0 453.4,516.8 454.9,514.4 C456.4,512.0 458.4,507.3 459.8,502.2 C461.2,497.1 463.4,484.0 464.6,477.9 C465.8,471.8 467.4,462.2 468.3,458.4 C469.2,454.6 470.3,451.1 471.2,450.6 C472.1,450.1 473.4,455.7 474.4,454.7 C475.4,453.7 477.2,448.4 478.0,443.8 C478.8,439.2 479.9,426.6 480.4,422.0 C480.9,417.4 481.3,410.6 481.7,410.6 C482.1,410.6 482.6,417.5 483.0,422.0 C483.4,426.5 483.8,437.6 484.4,442.5 C485.0,447.4 486.2,453.9 487.3,457.1 C488.4,460.3 490.9,463.2 492.5,465.4 C494.1,467.6 497.2,471.8 498.8,472.7 C500.4,473.6 502.5,472.0 504.0,471.7 C505.5,471.4 507.7,470.3 509.2,470.6 C510.7,470.9 512.9,473.4 514.4,473.8 C515.9,474.2 518.0,474.1 519.6,473.8 C521.2,473.5 523.8,472.1 525.8,471.7 C527.8,471.3 531.9,471.5 534.2,470.6 C536.5,469.7 540.2,465.8 542.5,465.4 C544.8,465.0 548.5,467.1 550.8,467.5 C553.1,467.9 556.9,468.1 559.2,468.5 C561.5,468.9 565.3,470.3 567.5,470.6 C569.7,470.9 573.0,470.9 574.8,470.6 C576.5,470.3 578.3,469.3 580.0,468.5 C581.7,467.7 585.0,466.2 587.0,465.0 C589.0,463.8 592.0,461.8 594.0,460.0 C596.0,458.2 599.5,455.0 601.6,452.0 C603.7,449.0 606.9,443.0 608.9,438.8 C610.9,434.6 614.5,426.6 616.2,421.8 C617.9,417.0 619.9,406.2 621.0,404.8 C622.1,403.4 623.1,409.0 624.0,412.1 C624.9,415.2 626.3,424.3 627.3,426.7 C628.3,429.1 629.9,430.1 630.9,429.1 C631.9,428.1 633.6,421.4 634.6,419.4 C635.6,417.4 637.2,414.2 638.2,414.5 C639.2,414.8 640.9,418.7 641.9,421.8 C642.9,424.9 644.5,436.4 645.5,436.4 C646.5,436.4 648.2,426.2 649.2,421.8 C650.2,417.4 652.0,408.5 652.8,404.8 C653.6,401.1 654.5,395.1 655.2,395.1 C655.9,395.1 657.0,405.8 657.7,404.8 C658.4,403.8 659.4,397.3 660.1,387.8 C660.8,378.3 661.9,339.1 662.5,336.7 C663.1,334.3 663.7,361.6 664.2,370.8 C664.7,380.0 665.6,394.9 666.2,402.4 C666.8,409.9 667.7,422.2 668.6,424.2 C669.5,426.2 671.3,424.8 672.3,417.0 C673.3,409.2 675.2,375.1 675.9,368.3 C676.6,361.5 677.3,368.3 677.5,368.3" fill="none" stroke="#7012e0" stroke-width="2.25" stroke-linejoin="round" stroke-linecap="round" />
</g>
<path d="M389.5,530.9 C390.1,531.2 392.8,532.7 393.8,533.1 C394.8,533.5 395.9,533.3 396.8,533.8 C397.7,534.3 399.4,536.5 400.4,536.4 C401.4,536.3 403.0,533.7 404.1,533.1 C405.2,532.5 407.4,532.2 408.4,532.3 C409.4,532.4 410.5,533.4 411.4,533.8 C412.3,534.2 414.0,535.7 415.0,535.5 C416.0,535.3 417.8,532.9 418.7,532.3 C419.6,531.7 420.6,531.3 421.6,530.9 C422.6,530.5 424.6,530.1 426.0,529.7 C427.4,529.3 430.2,528.6 431.8,528.2 C433.4,527.9 436.2,527.3 437.6,527.2 C439.0,527.1 440.8,527.7 442.0,527.7 C443.2,527.7 445.2,527.5 446.4,527.2 C447.6,526.9 449.4,526.1 450.8,525.8 C452.2,525.4 455.0,525.1 456.6,524.7 C458.2,524.4 460.9,524.0 462.5,523.3 C464.1,522.6 466.9,520.6 468.3,519.9 C469.7,519.2 471.3,518.8 472.7,518.5 C474.1,518.2 476.9,517.9 478.5,517.7 C480.1,517.5 482.8,517.3 484.4,517.0 C486.0,516.7 487.5,516.1 489.6,515.4 C491.7,514.7 496.6,513.1 499.3,512.2 C502.0,511.3 506.2,509.9 508.9,509.0 C511.6,508.1 515.8,506.7 518.5,505.8 C521.2,504.9 525.5,503.6 528.2,502.6 C530.9,501.6 535.1,499.6 537.8,498.5 C540.5,497.4 544.9,495.7 547.4,494.5 C549.9,493.3 553.2,490.9 555.5,489.7 C557.8,488.5 561.5,486.8 563.5,485.7 C565.5,484.6 568.1,482.7 569.9,481.7 C571.7,480.7 574.6,479.5 576.4,478.5 C578.2,477.5 580.9,475.7 582.8,474.5 C584.7,473.3 588.1,471.1 590.0,469.6 C591.9,468.1 594.1,465.8 596.5,464.1 C598.9,462.4 604.0,459.2 606.9,457.6 C609.8,456.0 614.6,454.2 617.3,452.4 C620.0,450.6 624.6,446.8 626.4,444.6 C628.2,442.4 629.2,437.3 630.3,436.8 C631.4,436.3 633.1,441.1 634.2,440.7 C635.3,440.3 637.2,435.8 638.1,434.2 C639.0,432.6 639.6,430.5 640.7,429.0 C641.8,427.5 644.4,425.1 645.9,423.8 C647.4,422.5 649.6,420.9 651.1,419.8 C652.6,418.7 654.9,417.9 656.4,415.9 C657.9,413.9 660.3,410.2 661.6,405.5 C662.9,400.8 664.6,385.7 665.5,382.1 C666.4,378.5 667.4,378.8 668.1,379.5 C668.8,380.2 669.8,383.7 670.7,387.3 C671.6,390.9 673.6,401.5 674.6,405.5 C675.6,409.5 677.1,414.5 677.5,416.0 L677.5,539.2 L389.5,539.2 Z" fill="#bcbcbc" fill-opacity="0.66" clip-path="url(#clipgd)"/>
<line x1="421.4" y1="539.2" x2="421.4" y2="535.7" stroke="#999" stroke-width="1"/>
<line x1="485.3" y1="539.2" x2="485.3" y2="535.7" stroke="#999" stroke-width="1"/>
<line x1="549.2" y1="539.2" x2="549.2" y2="535.7" stroke="#999" stroke-width="1"/>
<line x1="613.1" y1="539.2" x2="613.1" y2="535.7" stroke="#999" stroke-width="1"/>
<line x1="389.4" y1="469.8" x2="392.9" y2="469.8" stroke="#999" stroke-width="1"/>
<line x1="389.4" y1="400.4" x2="392.9" y2="400.4" stroke="#999" stroke-width="1"/>
<text transform="translate(421.4,552.8) scale(1.12,1)" font-size="10" text-anchor="middle" fill="#2a2a2a">20</text>
<text transform="translate(485.3,552.8) scale(1.12,1)" font-size="10" text-anchor="middle" fill="#2a2a2a">40</text>
<text transform="translate(549.2,552.8) scale(1.12,1)" font-size="10" text-anchor="middle" fill="#2a2a2a">60</text>
<text transform="translate(613.1,552.8) scale(1.12,1)" font-size="10" text-anchor="middle" fill="#2a2a2a">80</text>
<text transform="translate(677.0,552.8) scale(1.12,1)" font-size="10" text-anchor="middle" fill="#2a2a2a">100</text>
<text transform="translate(383.7,542.8) scale(1.06,1)" font-size="10" text-anchor="end" fill="#2a2a2a">0</text>
<text transform="translate(383.7,473.4) scale(1.06,1)" font-size="10" text-anchor="end" fill="#2a2a2a">1</text>
<text transform="translate(383.7,404.0) scale(1.06,1)" font-size="10" text-anchor="end" fill="#2a2a2a">2</text>
<text transform="translate(383.7,334.6) scale(1.06,1)" font-size="10" text-anchor="end" fill="#2a2a2a">3</text>
<text transform="translate(533.4,572.6) scale(1.1,1)" font-size="11" text-anchor="middle" fill="#2a2a2a">Wavenumber (cm<tspan font-size="7" dy="-4">−1</tspan><tspan dy="4">)</tspan></text>
<text transform="translate(366.8,434.7) rotate(-90) scale(1.11,1)" font-size="11" text-anchor="middle" fill="#2a2a2a">Real conductivity (Ω<tspan font-size="7" dy="-4">−1</tspan><tspan dy="4"> cm</tspan><tspan font-size="7" dy="-4">−1</tspan><tspan dy="4">)</tspan></text>
<line x1="409.3" y1="343.7" x2="421.0" y2="343.7" stroke="#f73b3b" stroke-width="1.8"/>
<text x="426.0" y="347.8" font-size="10.00" text-anchor="start" font-weight="normal" fill="#3a3a3a" >0 T</text>
<line x1="409.3" y1="357.2" x2="421.0" y2="357.2" stroke="#e6a832" stroke-width="1.8"/>
<text x="426.0" y="361.3" font-size="10.00" text-anchor="start" font-weight="normal" fill="#3a3a3a" >1 T</text>
<line x1="409.3" y1="370.7" x2="421.0" y2="370.7" stroke="#0ccf0c" stroke-width="1.8"/>
<text x="426.0" y="374.8" font-size="10.00" text-anchor="start" font-weight="normal" fill="#3a3a3a" >3 T</text>
<line x1="409.3" y1="384.2" x2="421.0" y2="384.2" stroke="#1aa3f5" stroke-width="1.8"/>
<text x="426.0" y="388.3" font-size="10.00" text-anchor="start" font-weight="normal" fill="#3a3a3a" >5 T</text>
<line x1="409.3" y1="397.7" x2="421.0" y2="397.7" stroke="#7012e0" stroke-width="1.8"/>
<text x="426.0" y="401.8" font-size="10.00" text-anchor="start" font-weight="normal" fill="#3a3a3a" >7 T</text>
<text x="355.4" y="311.3" font-size="16.50" text-anchor="start" font-weight="bold" fill="#000" stroke="#000" stroke-width="0.6">d</text>
<path d="M625.1,463.7 L663.9,484.7 L663.9,533.7 L625.1,512.7 Z" fill="#fede72"/><path d="M625.1,463.7 L629.1,461.4 L667.9,482.4 L663.9,484.7 Z" fill="#ffe797"/><path d="M663.9,484.7 L667.9,482.4 L667.9,531.4 L663.9,533.7 Z" fill="#e8c25e"/>
<line x1="583.1" y1="513.4" x2="583.3" y2="506.5" stroke="#111" stroke-width="1.90"/><path d="M583.4,501.8 L585.8,507.1 L580.8,506.9 Z" fill="#111"/><line x1="583.1" y1="513.4" x2="594.1" y2="507.9" stroke="#111" stroke-width="1.90"/><path d="M598.3,505.8 L594.8,510.4 L592.5,505.9 Z" fill="#111"/><line x1="583.1" y1="513.4" x2="591.9" y2="518.2" stroke="#111" stroke-width="1.90"/><path d="M596.0,520.4 L590.2,520.1 L592.6,515.7 Z" fill="#111"/><text x="574.1" y="495.0" font-size="8.6" font-weight="bold" fill="#111" stroke="#111" stroke-width="0.35">E<tspan stroke="none" font-size="6.2" font-weight="normal" fill="#555" dy="4.1">THz</tspan></text><text x="599.4" y="501.8" font-size="8.6" font-weight="bold" fill="#111" stroke="#111" stroke-width="0.35">k<tspan stroke="none" font-size="6.2" font-weight="normal" fill="#555" dy="3.5">THz</tspan></text><text x="586.9" y="532.2" font-size="8.6" font-weight="bold" fill="#111" stroke="#111" stroke-width="0.35">B<tspan stroke="none" font-size="6.2" font-weight="normal" fill="#555" dy="3.2">THz</tspan></text>
<text x="634.5" y="491.0" font-size="9.8" font-weight="bold" fill="#ff1a1a" stroke="#ff1a1a" stroke-width="0.35">H<tspan font-size="6.0" font-weight="normal" dy="4.1" dx="0.4" stroke-width="0.18">EXT</tspan></text>
<line x1="628.5" y1="497.9" x2="651.3" y2="510.4" stroke="#ff1a1a" stroke-width="2.10"/><path d="M656.1,513.1 L649.4,512.7 L652.2,507.7 Z" fill="#ff1a1a"/>
<rect x="41.7" y="37.2" width="172.6" height="125.0" fill="#fff"/>
<g clip-path="url(#clipins)">
<clipPath id="clipins"><rect x="41.7" y="37.2" width="172.6" height="125.0"/></clipPath>
<path d="M41.5,154.5 C42.0,155.3 44.1,159.9 45.1,160.4 C46.1,160.9 47.8,158.9 48.8,158.2 C49.8,157.5 51.1,155.4 52.4,155.3 C53.7,155.2 56.7,157.2 58.2,157.4 C59.7,157.6 61.6,157.0 63.4,156.4 C65.2,155.8 69.4,153.6 71.4,153.1 C73.4,152.6 75.9,153.2 78.0,152.8 C80.1,152.4 84.5,150.7 86.7,150.1 C88.9,149.5 92.2,149.2 94.0,148.7 C95.8,148.2 97.7,147.0 99.9,146.2 C102.1,145.4 107.5,144.1 110.0,143.3 C112.5,142.5 115.3,141.5 117.4,140.7 C119.5,139.9 122.9,138.6 124.7,137.7 C126.5,136.8 129.1,135.2 130.5,134.5 C131.9,133.8 133.1,133.6 135.0,132.6 C136.9,131.6 141.8,128.7 143.9,127.5 C146.0,126.3 148.8,124.8 150.0,124.0 C151.2,123.2 151.1,122.6 152.7,121.6 C154.3,120.6 159.7,118.1 161.6,117.0 C163.5,115.9 165.0,114.7 166.0,114.0 C167.0,113.3 168.0,112.5 169.0,112.2 C170.0,111.9 172.3,112.0 173.4,111.5 C174.5,111.0 175.7,109.3 176.5,108.5 C177.3,107.7 178.3,106.5 179.3,106.0 C180.3,105.5 182.7,105.4 183.7,104.8 C184.7,104.2 185.7,102.4 186.5,101.5 C187.3,100.6 188.7,99.1 189.6,98.5 C190.5,97.9 191.8,97.6 192.6,97.2 C193.4,96.8 194.7,96.1 195.5,95.5 C196.3,94.9 197.6,93.1 198.5,92.8 C199.4,92.5 201.3,94.9 202.1,93.5 C202.9,92.1 203.8,85.6 204.3,83.0 C204.8,80.4 205.2,76.0 205.8,75.1 C206.4,74.2 208.0,77.0 208.8,76.6 C209.6,76.2 210.6,73.2 211.2,72.5 C211.8,71.8 212.5,70.4 213.0,71.7 C213.5,73.0 214.3,80.6 214.5,82.0" fill="none" stroke="#f23030" stroke-width="1.40" stroke-linejoin="round" stroke-linecap="round" />
<path d="M41.5,154.5 C42.0,155.3 44.1,159.9 45.1,160.4 C46.1,160.9 47.8,158.9 48.8,158.2 C49.8,157.5 51.1,155.4 52.4,155.3 C53.7,155.2 56.7,157.2 58.2,157.4 C59.7,157.6 61.6,157.0 63.4,156.4 C65.2,155.8 69.4,153.6 71.4,153.1 C73.4,152.6 75.9,153.2 78.0,152.8 C80.1,152.4 84.5,150.7 86.7,150.1 C88.9,149.5 92.2,149.2 94.0,148.7 C95.8,148.2 97.7,147.0 99.9,146.2 C102.1,145.4 107.5,144.1 110.0,143.3 C112.5,142.5 115.3,141.5 117.4,140.7 C119.5,139.9 122.9,138.6 124.7,137.7 C126.5,136.8 129.1,135.2 130.5,134.5 C131.9,133.8 133.1,133.6 135.0,132.6 C136.9,131.6 141.8,128.7 143.9,127.5 C146.0,126.3 148.8,124.8 150.0,124.0 C151.2,123.2 151.1,122.7 152.7,121.8 C154.3,120.9 159.7,118.4 161.6,117.4 C163.5,116.4 165.0,115.2 166.0,114.6 C167.0,114.0 168.0,113.3 169.0,113.0 C170.0,112.7 172.3,113.0 173.4,112.5 C174.5,112.0 175.7,110.3 176.5,109.5 C177.3,108.7 178.3,107.4 179.3,106.8 C180.3,106.2 182.7,106.4 183.7,105.5 C184.7,104.6 185.8,101.9 186.5,100.5 C187.2,99.1 187.9,96.5 188.5,95.5 C189.1,94.5 190.3,93.3 191.1,93.5 C191.9,93.7 193.2,97.7 194.0,97.2 C194.8,96.7 195.7,92.2 196.5,90.0 C197.3,87.8 199.1,82.3 199.9,81.7 C200.7,81.1 201.6,85.9 202.1,85.4 C202.6,84.9 203.4,82.2 203.8,78.0 C204.2,73.8 204.8,55.6 205.2,55.2 C205.6,54.8 205.9,72.2 206.4,75.0 C206.9,77.8 208.1,75.3 208.8,75.1 C209.5,74.9 210.9,71.9 211.7,73.6 C212.5,75.3 214.1,85.0 214.5,86.9" fill="none" stroke="#e2cf1a" stroke-width="1.40" stroke-linejoin="round" stroke-linecap="round" />
<path d="M41.5,154.5 C42.0,155.3 44.1,159.9 45.1,160.4 C46.1,160.9 47.8,158.9 48.8,158.2 C49.8,157.5 51.1,155.4 52.4,155.3 C53.7,155.2 56.7,157.2 58.2,157.4 C59.7,157.6 61.6,157.0 63.4,156.4 C65.2,155.8 69.4,153.6 71.4,153.1 C73.4,152.6 75.9,153.2 78.0,152.8 C80.1,152.4 84.5,150.7 86.7,150.1 C88.9,149.5 92.2,149.2 94.0,148.7 C95.8,148.2 97.7,147.0 99.9,146.2 C102.1,145.4 107.5,144.1 110.0,143.3 C112.5,142.5 115.3,141.5 117.4,140.7 C119.5,139.9 122.9,138.6 124.7,137.7 C126.5,136.8 129.1,135.2 130.5,134.5 C131.9,133.8 133.1,133.6 135.0,132.6 C136.9,131.6 141.8,128.7 143.9,127.5 C146.0,126.3 148.8,124.8 150.0,124.0 C151.2,123.2 151.1,122.9 152.7,122.0 C154.3,121.1 159.7,118.6 161.6,117.6 C163.5,116.6 165.0,115.6 166.0,115.0 C167.0,114.4 168.0,113.8 169.0,113.5 C170.0,113.2 172.3,113.5 173.4,113.0 C174.5,112.5 175.7,110.8 176.5,110.0 C177.3,109.2 178.3,107.6 179.3,107.0 C180.3,106.4 182.7,106.7 183.7,106.0 C184.7,105.3 185.7,103.0 186.5,102.0 C187.3,101.0 188.7,99.4 189.6,99.0 C190.5,98.6 191.6,100.1 192.6,99.4 C193.6,98.7 196.0,95.5 197.0,94.3 C198.0,93.1 199.1,90.8 199.9,90.6 C200.7,90.4 202.2,94.4 202.9,92.8 C203.6,91.2 204.5,83.0 205.1,79.5 C205.7,76.0 206.5,70.0 207.0,68.0 C207.5,66.0 208.2,64.9 208.6,65.2 C209.0,65.5 209.8,68.4 210.2,70.0 C210.6,71.6 210.9,74.5 211.5,76.8 C212.1,79.1 214.1,84.9 214.5,86.2" fill="none" stroke="#1ec8c8" stroke-width="1.40" stroke-linejoin="round" stroke-linecap="round" />
<path d="M41.5,154.5 C42.0,155.3 44.1,159.9 45.1,160.4 C46.1,160.9 47.8,158.9 48.8,158.2 C49.8,157.5 51.1,155.4 52.4,155.3 C53.7,155.2 56.7,157.2 58.2,157.4 C59.7,157.6 61.6,157.0 63.4,156.4 C65.2,155.8 69.4,153.6 71.4,153.1 C73.4,152.6 75.9,153.2 78.0,152.8 C80.1,152.4 84.5,150.7 86.7,150.1 C88.9,149.5 92.2,149.2 94.0,148.7 C95.8,148.2 97.7,147.0 99.9,146.2 C102.1,145.4 107.5,144.1 110.0,143.3 C112.5,142.5 115.3,141.5 117.4,140.7 C119.5,139.9 122.9,138.6 124.7,137.7 C126.5,136.8 129.1,135.2 130.5,134.5 C131.9,133.8 133.1,133.6 135.0,132.6 C136.9,131.6 141.8,128.7 143.9,127.5 C146.0,126.3 148.8,124.7 150.0,124.0 C151.2,123.3 151.1,123.2 152.7,122.3 C154.3,121.4 159.7,118.9 161.6,117.9 C163.5,116.9 165.0,116.0 166.0,115.5 C167.0,115.0 168.0,114.4 169.0,114.2 C170.0,114.0 172.3,114.6 173.4,114.2 C174.5,113.8 175.7,111.9 176.5,111.0 C177.3,110.1 178.3,108.2 179.3,107.6 C180.3,107.0 182.7,107.4 183.7,106.8 C184.7,106.2 185.7,104.0 186.5,103.0 C187.3,102.0 188.6,99.5 189.6,99.4 C190.6,99.3 192.3,102.8 193.3,102.4 C194.3,102.0 196.0,96.5 197.0,96.5 C198.0,96.5 199.8,102.8 200.7,102.4 C201.6,102.1 202.6,97.1 203.3,94.0 C204.0,90.9 204.9,82.9 205.5,80.0 C206.1,77.1 206.8,73.7 207.3,73.6 C207.8,73.5 208.8,76.4 209.3,79.5 C209.8,82.6 210.7,93.0 211.2,96.0 C211.7,99.0 212.1,100.7 212.6,101.0 C213.1,101.3 214.2,98.4 214.5,98.0" fill="none" stroke="#7012e0" stroke-width="1.40" stroke-linejoin="round" stroke-linecap="round" />
</g>
<line x1="41.7" y1="37.2" x2="214.3" y2="37.2" stroke="#c8c8c8" stroke-width="1.2"/>
<line x1="41.7" y1="37.2" x2="41.7" y2="162.2" stroke="#777" stroke-width="1"/>
<line x1="41.2" y1="162.2" x2="214.8" y2="162.2" stroke="#999" stroke-width="1.1"/>
<line x1="214.3" y1="37.2" x2="214.3" y2="162.2" stroke="#999" stroke-width="1.1"/>
<line x1="60.9" y1="162.2" x2="60.9" y2="159.2" stroke="#aaa" stroke-width="1"/>
<line x1="99.2" y1="162.2" x2="99.2" y2="159.2" stroke="#aaa" stroke-width="1"/>
<line x1="137.6" y1="162.2" x2="137.6" y2="159.2" stroke="#aaa" stroke-width="1"/>
<line x1="175.9" y1="162.2" x2="175.9" y2="159.2" stroke="#aaa" stroke-width="1"/>
<text x="60.9" y="173.7" font-size="9.00" text-anchor="middle" font-weight="normal" fill="#2a2a2a" >20</text>
<text x="99.2" y="173.7" font-size="9.00" text-anchor="middle" font-weight="normal" fill="#2a2a2a" >40</text>
<text x="137.6" y="173.7" font-size="9.00" text-anchor="middle" font-weight="normal" fill="#2a2a2a" >60</text>
<text x="175.9" y="173.7" font-size="9.00" text-anchor="middle" font-weight="normal" fill="#2a2a2a" >80</text>
<text x="214.3" y="173.7" font-size="9.00" text-anchor="middle" font-weight="normal" fill="#2a2a2a" >100</text>
<line x1="210.8" y1="120.5" x2="214.3" y2="120.5" stroke="#777" stroke-width="1"/>
<line x1="210.8" y1="78.9" x2="214.3" y2="78.9" stroke="#777" stroke-width="1"/>
<text x="218.8" y="123.7" font-size="9.00" text-anchor="start" font-weight="normal" fill="#2a2a2a" >1</text>
<text x="218.8" y="82.1" font-size="9.00" text-anchor="start" font-weight="normal" fill="#2a2a2a" >2</text>
<text x="218.8" y="40.4" font-size="9.00" text-anchor="start" font-weight="normal" fill="#2a2a2a" >3</text>
<text transform="translate(128.2,192.8) scale(1.1,1)" font-size="9.3" text-anchor="middle" fill="#2a2a2a">Wavenumber (cm<tspan font-size="6" dy="-3.5">−1</tspan><tspan dy="3.5">)</tspan></text>
<text transform="translate(237.0,99.4) rotate(90) scale(1.105,1)" font-size="9.3" text-anchor="middle" fill="#2a2a2a">Real conductivity (Ω<tspan font-size="6" dy="-3.5">−1</tspan><tspan dy="3.5"> cm</tspan><tspan font-size="6" dy="-3.5">−1</tspan><tspan dy="3.5">)</tspan></text>
<path d="M107.0,46.8 L145.4,66.5 L145.4,115.7 L107.0,96.0 Z" fill="#fede72"/><path d="M107.0,46.8 L111.0,44.2 L149.4,63.9 L145.4,66.5 Z" fill="#ffe797"/><path d="M145.4,66.5 L149.4,63.9 L149.4,113.1 L145.4,115.7 Z" fill="#e8c25e"/>
<line x1="64.9" y1="97.7" x2="65.1" y2="90.8" stroke="#111" stroke-width="1.90"/><path d="M65.2,86.1 L67.6,91.4 L62.6,91.2 Z" fill="#111"/><line x1="64.9" y1="97.7" x2="75.9" y2="92.2" stroke="#111" stroke-width="1.90"/><path d="M80.1,90.1 L76.6,94.7 L74.3,90.2 Z" fill="#111"/><line x1="64.9" y1="97.7" x2="73.7" y2="102.5" stroke="#111" stroke-width="1.90"/><path d="M77.8,104.7 L72.0,104.4 L74.4,100.0 Z" fill="#111"/><text x="55.9" y="79.3" font-size="8.6" font-weight="bold" fill="#111" stroke="#111" stroke-width="0.35">E<tspan stroke="none" font-size="6.2" font-weight="normal" fill="#555" dy="4.1">THz</tspan></text><text x="81.2" y="86.1" font-size="8.6" font-weight="bold" fill="#111" stroke="#111" stroke-width="0.35">k<tspan stroke="none" font-size="6.2" font-weight="normal" fill="#555" dy="3.5">THz</tspan></text><text x="68.7" y="116.5" font-size="8.6" font-weight="bold" fill="#111" stroke="#111" stroke-width="0.35">B<tspan stroke="none" font-size="6.2" font-weight="normal" fill="#555" dy="3.2">THz</tspan></text>
<text x="115.8" y="71.3" font-size="10.2" font-weight="bold" fill="#ff1a1a" stroke="#ff1a1a" stroke-width="0.35">H<tspan font-size="6.5" font-weight="normal" dy="4.1" dx="0.4" stroke-width="0.18">EXT</tspan></text>
<line x1="122.2" y1="105.4" x2="122.2" y2="82.5" stroke="#ff1a1a" stroke-width="2.00"/><path d="M122.2,76.4 L125.1,83.0 L119.3,83.0 Z" fill="#ff1a1a"/>
</svg>
</body></html>
